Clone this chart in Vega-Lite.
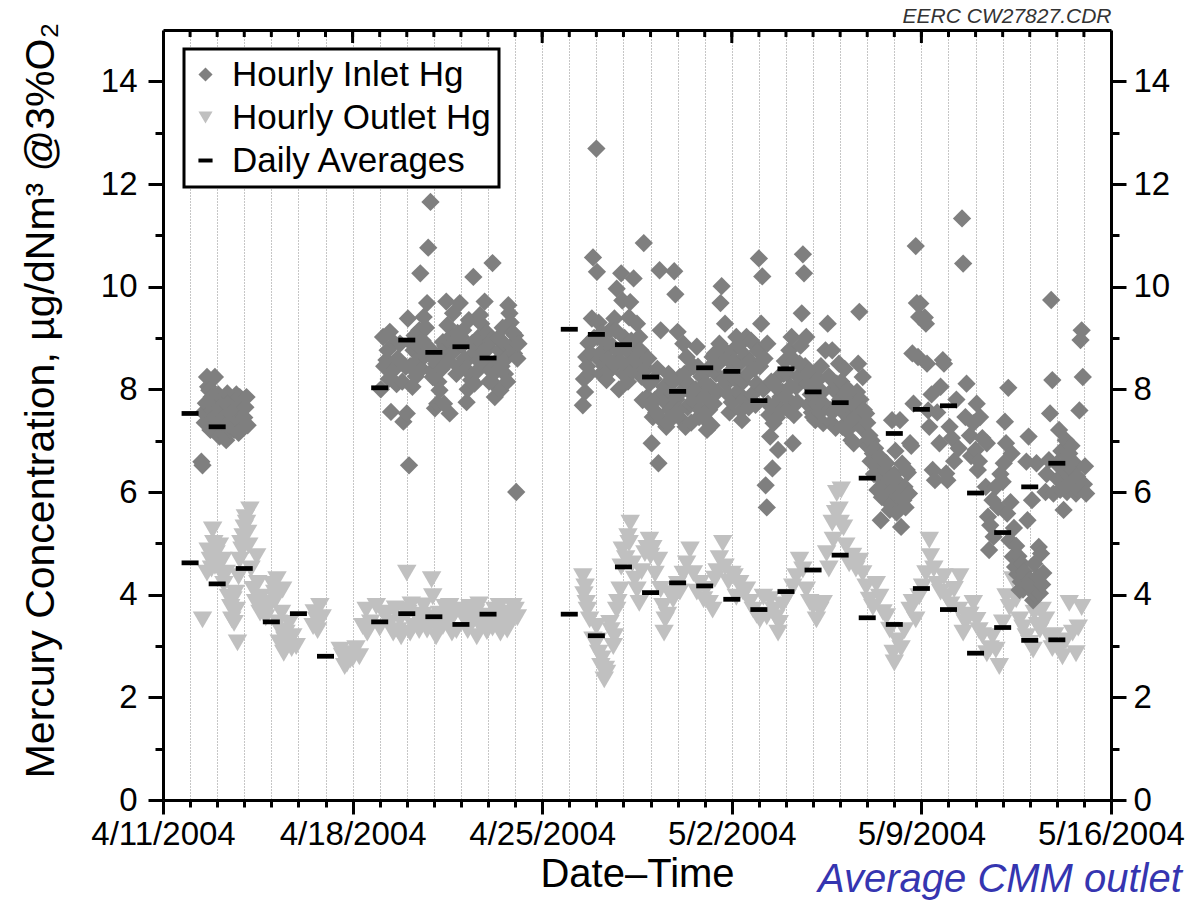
{
  "$schema": "https://vega.github.io/schema/vega-lite/v6.json",
  "width": 948,
  "height": 770,
  "autosize": {"type": "none"},
  "padding": {"left": 163, "top": 30, "right": 91, "bottom": 102},
  "background": "white",
  "title": {"text": "Average CMM outlet", "orient": "bottom", "anchor": "start", "frame": "group", "dx": 655, "offset": -34, "fontSize": 40, "fontStyle": "italic", "fontWeight": "normal", "color": "#3535b0", "font": "Liberation Sans"},
  "config": {
    "font": "Liberation Sans",
    "view": {"stroke": null},
    "axis": {"labelFont": "Liberation Sans", "titleFont": "Liberation Sans", "labelFontSize": 33, "titleFontSize": 40, "titleFontWeight": "normal", "labelColor": "black", "titleColor": "black", "domainColor": "black", "tickColor": "black", "domainWidth": 3, "tickWidth": 3, "grid": false}
  },
  "datasets": {
    "days": [
      {"date": "2004-04-12T00:00"}, {"date": "2004-04-13T00:00"}, {"date": "2004-04-14T00:00"}, {"date": "2004-04-15T00:00"},
      {"date": "2004-04-16T00:00"}, {"date": "2004-04-17T00:00"}, {"date": "2004-04-18T00:00"}, {"date": "2004-04-19T00:00"},
      {"date": "2004-04-20T00:00"}, {"date": "2004-04-21T00:00"}, {"date": "2004-04-22T00:00"}, {"date": "2004-04-23T00:00"},
      {"date": "2004-04-24T00:00"}, {"date": "2004-04-25T00:00"}, {"date": "2004-04-26T00:00"}, {"date": "2004-04-27T00:00"},
      {"date": "2004-04-28T00:00"}, {"date": "2004-04-29T00:00"}, {"date": "2004-04-30T00:00"}, {"date": "2004-05-01T00:00"},
      {"date": "2004-05-02T00:00"}, {"date": "2004-05-03T00:00"}, {"date": "2004-05-04T00:00"}, {"date": "2004-05-05T00:00"},
      {"date": "2004-05-06T00:00"}, {"date": "2004-05-07T00:00"}, {"date": "2004-05-08T00:00"}, {"date": "2004-05-09T00:00"},
      {"date": "2004-05-10T00:00"}, {"date": "2004-05-11T00:00"}, {"date": "2004-05-12T00:00"}, {"date": "2004-05-13T00:00"},
      {"date": "2004-05-14T00:00"}, {"date": "2004-05-15T00:00"}
    ],
    "hourly": [
      {"time": "2004-04-12T11:00", "value": 3.51, "series": "Hourly Outlet Hg"},
      {"time": "2004-04-12T15:00", "value": 4.42, "series": "Hourly Outlet Hg"},
      {"time": "2004-04-12T16:00", "value": 4.85, "series": "Hourly Outlet Hg"},
      {"time": "2004-04-12T18:00", "value": 4.67, "series": "Hourly Outlet Hg"},
      {"time": "2004-04-12T19:00", "value": 4.50, "series": "Hourly Outlet Hg"},
      {"time": "2004-04-12T20:00", "value": 5.26, "series": "Hourly Outlet Hg"},
      {"time": "2004-04-12T21:00", "value": 5.00, "series": "Hourly Outlet Hg"},
      {"time": "2004-04-12T22:00", "value": 4.55, "series": "Hourly Outlet Hg"},
      {"time": "2004-04-12T23:00", "value": 4.80, "series": "Hourly Outlet Hg"},
      {"time": "2004-04-13T00:00", "value": 4.60, "series": "Hourly Outlet Hg"},
      {"time": "2004-04-13T02:00", "value": 4.95, "series": "Hourly Outlet Hg"},
      {"time": "2004-04-13T04:00", "value": 4.40, "series": "Hourly Outlet Hg"},
      {"time": "2004-04-13T05:00", "value": 4.67, "series": "Hourly Outlet Hg"},
      {"time": "2004-04-13T06:00", "value": 4.20, "series": "Hourly Outlet Hg"},
      {"time": "2004-04-13T08:00", "value": 4.42, "series": "Hourly Outlet Hg"},
      {"time": "2004-04-13T10:00", "value": 3.95, "series": "Hourly Outlet Hg"},
      {"time": "2004-04-13T12:00", "value": 3.75, "series": "Hourly Outlet Hg"},
      {"time": "2004-04-13T13:00", "value": 3.51, "series": "Hourly Outlet Hg"},
      {"time": "2004-04-13T14:00", "value": 3.90, "series": "Hourly Outlet Hg"},
      {"time": "2004-04-13T15:00", "value": 3.44, "series": "Hourly Outlet Hg"},
      {"time": "2004-04-13T16:00", "value": 4.03, "series": "Hourly Outlet Hg"},
      {"time": "2004-04-13T17:00", "value": 3.70, "series": "Hourly Outlet Hg"},
      {"time": "2004-04-13T18:00", "value": 3.06, "series": "Hourly Outlet Hg"},
      {"time": "2004-04-13T19:00", "value": 4.35, "series": "Hourly Outlet Hg"},
      {"time": "2004-04-13T20:00", "value": 4.67, "series": "Hourly Outlet Hg"},
      {"time": "2004-04-13T21:00", "value": 5.00, "series": "Hourly Outlet Hg"},
      {"time": "2004-04-13T22:00", "value": 4.87, "series": "Hourly Outlet Hg"},
      {"time": "2004-04-13T23:00", "value": 5.13, "series": "Hourly Outlet Hg"},
      {"time": "2004-04-14T00:00", "value": 5.30, "series": "Hourly Outlet Hg"},
      {"time": "2004-04-14T01:00", "value": 5.50, "series": "Hourly Outlet Hg"},
      {"time": "2004-04-14T02:00", "value": 5.39, "series": "Hourly Outlet Hg"},
      {"time": "2004-04-14T03:00", "value": 5.20, "series": "Hourly Outlet Hg"},
      {"time": "2004-04-14T04:00", "value": 4.95, "series": "Hourly Outlet Hg"},
      {"time": "2004-04-14T05:00", "value": 5.65, "series": "Hourly Outlet Hg"},
      {"time": "2004-04-14T06:00", "value": 4.50, "series": "Hourly Outlet Hg"},
      {"time": "2004-04-14T08:00", "value": 4.10, "series": "Hourly Outlet Hg"},
      {"time": "2004-04-14T10:00", "value": 3.85, "series": "Hourly Outlet Hg"},
      {"time": "2004-04-14T11:00", "value": 4.74, "series": "Hourly Outlet Hg"},
      {"time": "2004-04-14T12:00", "value": 4.22, "series": "Hourly Outlet Hg"},
      {"time": "2004-04-14T14:00", "value": 3.64, "series": "Hourly Outlet Hg"},
      {"time": "2004-04-14T15:00", "value": 3.95, "series": "Hourly Outlet Hg"},
      {"time": "2004-04-14T17:00", "value": 3.70, "series": "Hourly Outlet Hg"},
      {"time": "2004-04-14T19:00", "value": 3.55, "series": "Hourly Outlet Hg"},
      {"time": "2004-04-14T21:00", "value": 3.80, "series": "Hourly Outlet Hg"},
      {"time": "2004-04-15T00:00", "value": 3.83, "series": "Hourly Outlet Hg"},
      {"time": "2004-04-15T01:00", "value": 4.20, "series": "Hourly Outlet Hg"},
      {"time": "2004-04-15T03:00", "value": 4.03, "series": "Hourly Outlet Hg"},
      {"time": "2004-04-15T04:00", "value": 3.90, "series": "Hourly Outlet Hg"},
      {"time": "2004-04-15T05:00", "value": 4.29, "series": "Hourly Outlet Hg"},
      {"time": "2004-04-15T06:00", "value": 3.45, "series": "Hourly Outlet Hg"},
      {"time": "2004-04-15T07:00", "value": 3.06, "series": "Hourly Outlet Hg"},
      {"time": "2004-04-15T08:00", "value": 3.30, "series": "Hourly Outlet Hg"},
      {"time": "2004-04-15T09:00", "value": 3.64, "series": "Hourly Outlet Hg"},
      {"time": "2004-04-15T10:00", "value": 4.09, "series": "Hourly Outlet Hg"},
      {"time": "2004-04-15T11:00", "value": 2.86, "series": "Hourly Outlet Hg"},
      {"time": "2004-04-15T12:00", "value": 3.12, "series": "Hourly Outlet Hg"},
      {"time": "2004-04-15T13:00", "value": 3.25, "series": "Hourly Outlet Hg"},
      {"time": "2004-04-15T14:00", "value": 2.99, "series": "Hourly Outlet Hg"},
      {"time": "2004-04-15T15:00", "value": 3.05, "series": "Hourly Outlet Hg"},
      {"time": "2004-04-15T16:00", "value": 3.44, "series": "Hourly Outlet Hg"},
      {"time": "2004-04-15T18:00", "value": 2.95, "series": "Hourly Outlet Hg"},
      {"time": "2004-04-15T19:00", "value": 3.18, "series": "Hourly Outlet Hg"},
      {"time": "2004-04-15T22:00", "value": 2.99, "series": "Hourly Outlet Hg"},
      {"time": "2004-04-16T13:00", "value": 3.38, "series": "Hourly Outlet Hg"},
      {"time": "2004-04-16T14:00", "value": 3.65, "series": "Hourly Outlet Hg"},
      {"time": "2004-04-16T16:00", "value": 3.51, "series": "Hourly Outlet Hg"},
      {"time": "2004-04-16T17:00", "value": 3.30, "series": "Hourly Outlet Hg"},
      {"time": "2004-04-16T19:00", "value": 3.77, "series": "Hourly Outlet Hg"},
      {"time": "2004-04-16T21:00", "value": 3.55, "series": "Hourly Outlet Hg"},
      {"time": "2004-04-17T13:00", "value": 2.92, "series": "Hourly Outlet Hg"},
      {"time": "2004-04-17T15:00", "value": 2.80, "series": "Hourly Outlet Hg"},
      {"time": "2004-04-17T17:00", "value": 2.60, "series": "Hourly Outlet Hg"},
      {"time": "2004-04-17T19:00", "value": 2.65, "series": "Hourly Outlet Hg"},
      {"time": "2004-04-17T20:00", "value": 2.85, "series": "Hourly Outlet Hg"},
      {"time": "2004-04-17T22:00", "value": 2.73, "series": "Hourly Outlet Hg"},
      {"time": "2004-04-18T00:00", "value": 2.75, "series": "Hourly Outlet Hg"},
      {"time": "2004-04-18T03:00", "value": 2.95, "series": "Hourly Outlet Hg"},
      {"time": "2004-04-18T06:00", "value": 2.79, "series": "Hourly Outlet Hg"},
      {"time": "2004-04-18T09:00", "value": 3.38, "series": "Hourly Outlet Hg"},
      {"time": "2004-04-18T12:00", "value": 3.70, "series": "Hourly Outlet Hg"},
      {"time": "2004-04-18T13:00", "value": 3.25, "series": "Hourly Outlet Hg"},
      {"time": "2004-04-18T16:00", "value": 3.45, "series": "Hourly Outlet Hg"},
      {"time": "2004-04-18T21:00", "value": 3.77, "series": "Hourly Outlet Hg"},
      {"time": "2004-04-19T00:00", "value": 3.35, "series": "Hourly Outlet Hg"},
      {"time": "2004-04-19T03:00", "value": 3.64, "series": "Hourly Outlet Hg"},
      {"time": "2004-04-19T06:00", "value": 3.60, "series": "Hourly Outlet Hg"},
      {"time": "2004-04-19T09:00", "value": 3.44, "series": "Hourly Outlet Hg"},
      {"time": "2004-04-19T12:00", "value": 3.25, "series": "Hourly Outlet Hg"},
      {"time": "2004-04-19T14:00", "value": 3.72, "series": "Hourly Outlet Hg"},
      {"time": "2004-04-19T16:00", "value": 3.30, "series": "Hourly Outlet Hg"},
      {"time": "2004-04-19T18:00", "value": 3.51, "series": "Hourly Outlet Hg"},
      {"time": "2004-04-19T19:00", "value": 3.18, "series": "Hourly Outlet Hg"},
      {"time": "2004-04-19T22:00", "value": 3.70, "series": "Hourly Outlet Hg"},
      {"time": "2004-04-20T00:00", "value": 4.42, "series": "Hourly Outlet Hg"},
      {"time": "2004-04-20T01:00", "value": 3.64, "series": "Hourly Outlet Hg"},
      {"time": "2004-04-20T03:00", "value": 3.25, "series": "Hourly Outlet Hg"},
      {"time": "2004-04-20T04:00", "value": 3.80, "series": "Hourly Outlet Hg"},
      {"time": "2004-04-20T06:00", "value": 3.38, "series": "Hourly Outlet Hg"},
      {"time": "2004-04-20T09:00", "value": 3.55, "series": "Hourly Outlet Hg"},
      {"time": "2004-04-20T11:00", "value": 3.30, "series": "Hourly Outlet Hg"},
      {"time": "2004-04-20T12:00", "value": 3.51, "series": "Hourly Outlet Hg"},
      {"time": "2004-04-20T14:00", "value": 3.60, "series": "Hourly Outlet Hg"},
      {"time": "2004-04-20T15:00", "value": 3.78, "series": "Hourly Outlet Hg"},
      {"time": "2004-04-20T18:00", "value": 3.31, "series": "Hourly Outlet Hg"},
      {"time": "2004-04-20T20:00", "value": 3.44, "series": "Hourly Outlet Hg"},
      {"time": "2004-04-20T22:00", "value": 4.29, "series": "Hourly Outlet Hg"},
      {"time": "2004-04-20T23:00", "value": 3.96, "series": "Hourly Outlet Hg"},
      {"time": "2004-04-21T00:00", "value": 3.55, "series": "Hourly Outlet Hg"},
      {"time": "2004-04-21T02:00", "value": 3.18, "series": "Hourly Outlet Hg"},
      {"time": "2004-04-21T04:00", "value": 3.30, "series": "Hourly Outlet Hg"},
      {"time": "2004-04-21T05:00", "value": 3.62, "series": "Hourly Outlet Hg"},
      {"time": "2004-04-21T08:00", "value": 3.38, "series": "Hourly Outlet Hg"},
      {"time": "2004-04-21T10:00", "value": 3.75, "series": "Hourly Outlet Hg"},
      {"time": "2004-04-21T11:00", "value": 3.48, "series": "Hourly Outlet Hg"},
      {"time": "2004-04-21T14:00", "value": 3.77, "series": "Hourly Outlet Hg"},
      {"time": "2004-04-21T16:00", "value": 3.25, "series": "Hourly Outlet Hg"},
      {"time": "2004-04-21T17:00", "value": 3.57, "series": "Hourly Outlet Hg"},
      {"time": "2004-04-21T19:00", "value": 3.65, "series": "Hourly Outlet Hg"},
      {"time": "2004-04-21T20:00", "value": 3.30, "series": "Hourly Outlet Hg"},
      {"time": "2004-04-21T23:00", "value": 3.70, "series": "Hourly Outlet Hg"},
      {"time": "2004-04-22T02:00", "value": 3.60, "series": "Hourly Outlet Hg"},
      {"time": "2004-04-22T05:00", "value": 3.44, "series": "Hourly Outlet Hg"},
      {"time": "2004-04-22T06:00", "value": 3.30, "series": "Hourly Outlet Hg"},
      {"time": "2004-04-22T08:00", "value": 3.75, "series": "Hourly Outlet Hg"},
      {"time": "2004-04-22T11:00", "value": 3.52, "series": "Hourly Outlet Hg"},
      {"time": "2004-04-22T13:00", "value": 3.65, "series": "Hourly Outlet Hg"},
      {"time": "2004-04-22T14:00", "value": 3.18, "series": "Hourly Outlet Hg"},
      {"time": "2004-04-22T16:00", "value": 3.80, "series": "Hourly Outlet Hg"},
      {"time": "2004-04-22T17:00", "value": 3.38, "series": "Hourly Outlet Hg"},
      {"time": "2004-04-22T20:00", "value": 3.57, "series": "Hourly Outlet Hg"},
      {"time": "2004-04-22T21:00", "value": 3.40, "series": "Hourly Outlet Hg"},
      {"time": "2004-04-22T23:00", "value": 3.28, "series": "Hourly Outlet Hg"},
      {"time": "2004-04-23T02:00", "value": 3.58, "series": "Hourly Outlet Hg"},
      {"time": "2004-04-23T04:00", "value": 3.35, "series": "Hourly Outlet Hg"},
      {"time": "2004-04-23T06:00", "value": 3.70, "series": "Hourly Outlet Hg"},
      {"time": "2004-04-23T08:00", "value": 3.55, "series": "Hourly Outlet Hg"},
      {"time": "2004-04-23T10:00", "value": 3.77, "series": "Hourly Outlet Hg"},
      {"time": "2004-04-23T11:00", "value": 3.25, "series": "Hourly Outlet Hg"},
      {"time": "2004-04-23T13:00", "value": 3.45, "series": "Hourly Outlet Hg"},
      {"time": "2004-04-23T16:00", "value": 3.64, "series": "Hourly Outlet Hg"},
      {"time": "2004-04-23T17:00", "value": 3.31, "series": "Hourly Outlet Hg"},
      {"time": "2004-04-23T19:00", "value": 3.44, "series": "Hourly Outlet Hg"},
      {"time": "2004-04-23T20:00", "value": 3.60, "series": "Hourly Outlet Hg"},
      {"time": "2004-04-23T22:00", "value": 3.77, "series": "Hourly Outlet Hg"},
      {"time": "2004-04-24T00:00", "value": 3.70, "series": "Hourly Outlet Hg"},
      {"time": "2004-04-24T02:00", "value": 3.55, "series": "Hourly Outlet Hg"},
      {"time": "2004-04-26T12:00", "value": 4.35, "series": "Hourly Outlet Hg"},
      {"time": "2004-04-26T13:00", "value": 4.00, "series": "Hourly Outlet Hg"},
      {"time": "2004-04-26T14:00", "value": 4.15, "series": "Hourly Outlet Hg"},
      {"time": "2004-04-26T15:00", "value": 3.83, "series": "Hourly Outlet Hg"},
      {"time": "2004-04-26T16:00", "value": 3.70, "series": "Hourly Outlet Hg"},
      {"time": "2004-04-26T18:00", "value": 3.51, "series": "Hourly Outlet Hg"},
      {"time": "2004-04-26T21:00", "value": 3.12, "series": "Hourly Outlet Hg"},
      {"time": "2004-04-27T00:00", "value": 3.38, "series": "Hourly Outlet Hg"},
      {"time": "2004-04-27T01:00", "value": 3.10, "series": "Hourly Outlet Hg"},
      {"time": "2004-04-27T02:00", "value": 2.86, "series": "Hourly Outlet Hg"},
      {"time": "2004-04-27T04:00", "value": 2.60, "series": "Hourly Outlet Hg"},
      {"time": "2004-04-27T05:00", "value": 2.75, "series": "Hourly Outlet Hg"},
      {"time": "2004-04-27T07:00", "value": 2.34, "series": "Hourly Outlet Hg"},
      {"time": "2004-04-27T08:00", "value": 2.55, "series": "Hourly Outlet Hg"},
      {"time": "2004-04-27T09:00", "value": 2.47, "series": "Hourly Outlet Hg"},
      {"time": "2004-04-27T12:00", "value": 3.44, "series": "Hourly Outlet Hg"},
      {"time": "2004-04-27T13:00", "value": 3.30, "series": "Hourly Outlet Hg"},
      {"time": "2004-04-27T15:00", "value": 2.99, "series": "Hourly Outlet Hg"},
      {"time": "2004-04-27T16:00", "value": 3.18, "series": "Hourly Outlet Hg"},
      {"time": "2004-04-27T18:00", "value": 3.70, "series": "Hourly Outlet Hg"},
      {"time": "2004-04-27T19:00", "value": 3.85, "series": "Hourly Outlet Hg"},
      {"time": "2004-04-27T21:00", "value": 4.09, "series": "Hourly Outlet Hg"},
      {"time": "2004-04-27T22:00", "value": 4.54, "series": "Hourly Outlet Hg"},
      {"time": "2004-04-27T23:00", "value": 4.87, "series": "Hourly Outlet Hg"},
      {"time": "2004-04-28T02:00", "value": 4.70, "series": "Hourly Outlet Hg"},
      {"time": "2004-04-28T04:00", "value": 5.13, "series": "Hourly Outlet Hg"},
      {"time": "2004-04-28T05:00", "value": 5.00, "series": "Hourly Outlet Hg"},
      {"time": "2004-04-28T06:00", "value": 5.39, "series": "Hourly Outlet Hg"},
      {"time": "2004-04-28T08:00", "value": 4.60, "series": "Hourly Outlet Hg"},
      {"time": "2004-04-28T10:00", "value": 4.30, "series": "Hourly Outlet Hg"},
      {"time": "2004-04-28T12:00", "value": 4.09, "series": "Hourly Outlet Hg"},
      {"time": "2004-04-28T14:00", "value": 3.83, "series": "Hourly Outlet Hg"},
      {"time": "2004-04-28T16:00", "value": 4.45, "series": "Hourly Outlet Hg"},
      {"time": "2004-04-28T19:00", "value": 4.80, "series": "Hourly Outlet Hg"},
      {"time": "2004-04-28T21:00", "value": 4.90, "series": "Hourly Outlet Hg"},
      {"time": "2004-04-28T23:00", "value": 5.06, "series": "Hourly Outlet Hg"},
      {"time": "2004-04-29T00:00", "value": 4.75, "series": "Hourly Outlet Hg"},
      {"time": "2004-04-29T02:00", "value": 4.90, "series": "Hourly Outlet Hg"},
      {"time": "2004-04-29T04:00", "value": 4.40, "series": "Hourly Outlet Hg"},
      {"time": "2004-04-29T07:00", "value": 4.67, "series": "Hourly Outlet Hg"},
      {"time": "2004-04-29T09:00", "value": 4.10, "series": "Hourly Outlet Hg"},
      {"time": "2004-04-29T11:00", "value": 3.77, "series": "Hourly Outlet Hg"},
      {"time": "2004-04-29T12:00", "value": 3.25, "series": "Hourly Outlet Hg"},
      {"time": "2004-04-29T13:00", "value": 3.51, "series": "Hourly Outlet Hg"},
      {"time": "2004-04-29T15:00", "value": 3.60, "series": "Hourly Outlet Hg"},
      {"time": "2004-04-29T17:00", "value": 4.02, "series": "Hourly Outlet Hg"},
      {"time": "2004-04-29T20:00", "value": 3.90, "series": "Hourly Outlet Hg"},
      {"time": "2004-04-30T00:00", "value": 4.20, "series": "Hourly Outlet Hg"},
      {"time": "2004-04-30T02:00", "value": 4.05, "series": "Hourly Outlet Hg"},
      {"time": "2004-04-30T05:00", "value": 4.40, "series": "Hourly Outlet Hg"},
      {"time": "2004-04-30T08:00", "value": 4.60, "series": "Hourly Outlet Hg"},
      {"time": "2004-04-30T11:00", "value": 4.87, "series": "Hourly Outlet Hg"},
      {"time": "2004-04-30T14:00", "value": 4.41, "series": "Hourly Outlet Hg"},
      {"time": "2004-04-30T17:00", "value": 4.05, "series": "Hourly Outlet Hg"},
      {"time": "2004-04-30T20:00", "value": 4.22, "series": "Hourly Outlet Hg"},
      {"time": "2004-04-30T23:00", "value": 3.90, "series": "Hourly Outlet Hg"},
      {"time": "2004-05-01T01:00", "value": 4.10, "series": "Hourly Outlet Hg"},
      {"time": "2004-05-01T04:00", "value": 3.83, "series": "Hourly Outlet Hg"},
      {"time": "2004-05-01T07:00", "value": 3.70, "series": "Hourly Outlet Hg"},
      {"time": "2004-05-01T09:00", "value": 4.30, "series": "Hourly Outlet Hg"},
      {"time": "2004-05-01T11:00", "value": 4.45, "series": "Hourly Outlet Hg"},
      {"time": "2004-05-01T13:00", "value": 4.70, "series": "Hourly Outlet Hg"},
      {"time": "2004-05-01T16:00", "value": 5.00, "series": "Hourly Outlet Hg"},
      {"time": "2004-05-01T18:00", "value": 4.54, "series": "Hourly Outlet Hg"},
      {"time": "2004-05-01T21:00", "value": 4.25, "series": "Hourly Outlet Hg"},
      {"time": "2004-05-02T00:00", "value": 4.40, "series": "Hourly Outlet Hg"},
      {"time": "2004-05-02T02:00", "value": 4.35, "series": "Hourly Outlet Hg"},
      {"time": "2004-05-02T04:00", "value": 3.95, "series": "Hourly Outlet Hg"},
      {"time": "2004-05-02T07:00", "value": 4.22, "series": "Hourly Outlet Hg"},
      {"time": "2004-05-02T10:00", "value": 4.05, "series": "Hourly Outlet Hg"},
      {"time": "2004-05-02T13:00", "value": 4.09, "series": "Hourly Outlet Hg"},
      {"time": "2004-05-02T16:00", "value": 3.85, "series": "Hourly Outlet Hg"},
      {"time": "2004-05-02T19:00", "value": 3.70, "series": "Hourly Outlet Hg"},
      {"time": "2004-05-02T22:00", "value": 3.60, "series": "Hourly Outlet Hg"},
      {"time": "2004-05-03T01:00", "value": 3.51, "series": "Hourly Outlet Hg"},
      {"time": "2004-05-03T04:00", "value": 3.95, "series": "Hourly Outlet Hg"},
      {"time": "2004-05-03T07:00", "value": 3.57, "series": "Hourly Outlet Hg"},
      {"time": "2004-05-03T10:00", "value": 3.90, "series": "Hourly Outlet Hg"},
      {"time": "2004-05-03T13:00", "value": 3.70, "series": "Hourly Outlet Hg"},
      {"time": "2004-05-03T15:00", "value": 3.55, "series": "Hourly Outlet Hg"},
      {"time": "2004-05-03T17:00", "value": 3.25, "series": "Hourly Outlet Hg"},
      {"time": "2004-05-03T18:00", "value": 3.44, "series": "Hourly Outlet Hg"},
      {"time": "2004-05-03T21:00", "value": 3.80, "series": "Hourly Outlet Hg"},
      {"time": "2004-05-04T01:00", "value": 3.95, "series": "Hourly Outlet Hg"},
      {"time": "2004-05-04T06:00", "value": 4.15, "series": "Hourly Outlet Hg"},
      {"time": "2004-05-04T09:00", "value": 4.35, "series": "Hourly Outlet Hg"},
      {"time": "2004-05-04T12:00", "value": 4.67, "series": "Hourly Outlet Hg"},
      {"time": "2004-05-04T15:00", "value": 4.48, "series": "Hourly Outlet Hg"},
      {"time": "2004-05-04T18:00", "value": 4.09, "series": "Hourly Outlet Hg"},
      {"time": "2004-05-04T21:00", "value": 3.85, "series": "Hourly Outlet Hg"},
      {"time": "2004-05-05T00:00", "value": 3.77, "series": "Hourly Outlet Hg"},
      {"time": "2004-05-05T03:00", "value": 3.51, "series": "Hourly Outlet Hg"},
      {"time": "2004-05-05T06:00", "value": 3.70, "series": "Hourly Outlet Hg"},
      {"time": "2004-05-05T09:00", "value": 3.83, "series": "Hourly Outlet Hg"},
      {"time": "2004-05-05T12:00", "value": 4.80, "series": "Hourly Outlet Hg"},
      {"time": "2004-05-05T14:00", "value": 4.50, "series": "Hourly Outlet Hg"},
      {"time": "2004-05-05T17:00", "value": 5.39, "series": "Hourly Outlet Hg"},
      {"time": "2004-05-05T18:00", "value": 5.06, "series": "Hourly Outlet Hg"},
      {"time": "2004-05-05T20:00", "value": 5.58, "series": "Hourly Outlet Hg"},
      {"time": "2004-05-05T21:00", "value": 5.97, "series": "Hourly Outlet Hg"},
      {"time": "2004-05-05T23:00", "value": 5.65, "series": "Hourly Outlet Hg"},
      {"time": "2004-05-06T00:00", "value": 5.39, "series": "Hourly Outlet Hg"},
      {"time": "2004-05-06T01:00", "value": 6.04, "series": "Hourly Outlet Hg"},
      {"time": "2004-05-06T03:00", "value": 5.30, "series": "Hourly Outlet Hg"},
      {"time": "2004-05-06T05:00", "value": 4.95, "series": "Hourly Outlet Hg"},
      {"time": "2004-05-06T08:00", "value": 4.60, "series": "Hourly Outlet Hg"},
      {"time": "2004-05-06T11:00", "value": 4.75, "series": "Hourly Outlet Hg"},
      {"time": "2004-05-06T14:00", "value": 4.50, "series": "Hourly Outlet Hg"},
      {"time": "2004-05-06T17:00", "value": 4.65, "series": "Hourly Outlet Hg"},
      {"time": "2004-05-06T20:00", "value": 4.41, "series": "Hourly Outlet Hg"},
      {"time": "2004-05-06T23:00", "value": 4.15, "series": "Hourly Outlet Hg"},
      {"time": "2004-05-07T02:00", "value": 3.89, "series": "Hourly Outlet Hg"},
      {"time": "2004-05-07T05:00", "value": 3.75, "series": "Hourly Outlet Hg"},
      {"time": "2004-05-07T08:00", "value": 4.20, "series": "Hourly Outlet Hg"},
      {"time": "2004-05-07T11:00", "value": 3.95, "series": "Hourly Outlet Hg"},
      {"time": "2004-05-07T14:00", "value": 3.65, "series": "Hourly Outlet Hg"},
      {"time": "2004-05-07T17:00", "value": 3.57, "series": "Hourly Outlet Hg"},
      {"time": "2004-05-07T20:00", "value": 3.31, "series": "Hourly Outlet Hg"},
      {"time": "2004-05-07T23:00", "value": 2.86, "series": "Hourly Outlet Hg"},
      {"time": "2004-05-08T00:00", "value": 2.67, "series": "Hourly Outlet Hg"},
      {"time": "2004-05-08T03:00", "value": 3.10, "series": "Hourly Outlet Hg"},
      {"time": "2004-05-08T06:00", "value": 2.95, "series": "Hourly Outlet Hg"},
      {"time": "2004-05-08T09:00", "value": 3.30, "series": "Hourly Outlet Hg"},
      {"time": "2004-05-08T14:00", "value": 3.70, "series": "Hourly Outlet Hg"},
      {"time": "2004-05-08T16:00", "value": 3.85, "series": "Hourly Outlet Hg"},
      {"time": "2004-05-08T19:00", "value": 3.51, "series": "Hourly Outlet Hg"},
      {"time": "2004-05-08T22:00", "value": 3.96, "series": "Hourly Outlet Hg"},
      {"time": "2004-05-09T01:00", "value": 4.15, "series": "Hourly Outlet Hg"},
      {"time": "2004-05-09T04:00", "value": 4.41, "series": "Hourly Outlet Hg"},
      {"time": "2004-05-09T07:00", "value": 5.06, "series": "Hourly Outlet Hg"},
      {"time": "2004-05-09T08:00", "value": 4.74, "series": "Hourly Outlet Hg"},
      {"time": "2004-05-09T11:00", "value": 4.50, "series": "Hourly Outlet Hg"},
      {"time": "2004-05-09T14:00", "value": 4.20, "series": "Hourly Outlet Hg"},
      {"time": "2004-05-09T17:00", "value": 4.05, "series": "Hourly Outlet Hg"},
      {"time": "2004-05-09T20:00", "value": 4.35, "series": "Hourly Outlet Hg"},
      {"time": "2004-05-09T22:00", "value": 3.96, "series": "Hourly Outlet Hg"},
      {"time": "2004-05-10T02:00", "value": 3.80, "series": "Hourly Outlet Hg"},
      {"time": "2004-05-10T05:00", "value": 4.10, "series": "Hourly Outlet Hg"},
      {"time": "2004-05-10T09:00", "value": 3.70, "series": "Hourly Outlet Hg"},
      {"time": "2004-05-10T10:00", "value": 4.35, "series": "Hourly Outlet Hg"},
      {"time": "2004-05-10T13:00", "value": 3.25, "series": "Hourly Outlet Hg"},
      {"time": "2004-05-10T15:00", "value": 3.45, "series": "Hourly Outlet Hg"},
      {"time": "2004-05-10T17:00", "value": 3.55, "series": "Hourly Outlet Hg"},
      {"time": "2004-05-10T19:00", "value": 3.60, "series": "Hourly Outlet Hg"},
      {"time": "2004-05-10T22:00", "value": 3.83, "series": "Hourly Outlet Hg"},
      {"time": "2004-05-11T01:00", "value": 3.50, "series": "Hourly Outlet Hg"},
      {"time": "2004-05-11T03:00", "value": 3.30, "series": "Hourly Outlet Hg"},
      {"time": "2004-05-11T06:00", "value": 3.20, "series": "Hourly Outlet Hg"},
      {"time": "2004-05-11T10:00", "value": 2.85, "series": "Hourly Outlet Hg"},
      {"time": "2004-05-11T13:00", "value": 2.95, "series": "Hourly Outlet Hg"},
      {"time": "2004-05-11T15:00", "value": 3.18, "series": "Hourly Outlet Hg"},
      {"time": "2004-05-11T18:00", "value": 2.92, "series": "Hourly Outlet Hg"},
      {"time": "2004-05-11T21:00", "value": 2.60, "series": "Hourly Outlet Hg"},
      {"time": "2004-05-12T00:00", "value": 3.45, "series": "Hourly Outlet Hg"},
      {"time": "2004-05-12T03:00", "value": 3.96, "series": "Hourly Outlet Hg"},
      {"time": "2004-05-12T06:00", "value": 3.75, "series": "Hourly Outlet Hg"},
      {"time": "2004-05-12T09:00", "value": 4.29, "series": "Hourly Outlet Hg"},
      {"time": "2004-05-12T12:00", "value": 3.90, "series": "Hourly Outlet Hg"},
      {"time": "2004-05-12T15:00", "value": 3.51, "series": "Hourly Outlet Hg"},
      {"time": "2004-05-12T18:00", "value": 3.35, "series": "Hourly Outlet Hg"},
      {"time": "2004-05-12T21:00", "value": 3.18, "series": "Hourly Outlet Hg"},
      {"time": "2004-05-13T00:00", "value": 3.05, "series": "Hourly Outlet Hg"},
      {"time": "2004-05-13T03:00", "value": 2.92, "series": "Hourly Outlet Hg"},
      {"time": "2004-05-13T04:00", "value": 3.64, "series": "Hourly Outlet Hg"},
      {"time": "2004-05-13T07:00", "value": 3.40, "series": "Hourly Outlet Hg"},
      {"time": "2004-05-13T09:00", "value": 3.31, "series": "Hourly Outlet Hg"},
      {"time": "2004-05-13T11:00", "value": 3.70, "series": "Hourly Outlet Hg"},
      {"time": "2004-05-13T14:00", "value": 3.51, "series": "Hourly Outlet Hg"},
      {"time": "2004-05-13T17:00", "value": 3.18, "series": "Hourly Outlet Hg"},
      {"time": "2004-05-13T20:00", "value": 2.95, "series": "Hourly Outlet Hg"},
      {"time": "2004-05-13T22:00", "value": 3.20, "series": "Hourly Outlet Hg"},
      {"time": "2004-05-14T02:00", "value": 2.92, "series": "Hourly Outlet Hg"},
      {"time": "2004-05-14T05:00", "value": 2.79, "series": "Hourly Outlet Hg"},
      {"time": "2004-05-14T08:00", "value": 3.10, "series": "Hourly Outlet Hg"},
      {"time": "2004-05-14T11:00", "value": 3.83, "series": "Hourly Outlet Hg"},
      {"time": "2004-05-14T14:00", "value": 3.25, "series": "Hourly Outlet Hg"},
      {"time": "2004-05-14T17:00", "value": 2.85, "series": "Hourly Outlet Hg"},
      {"time": "2004-05-14T19:00", "value": 3.35, "series": "Hourly Outlet Hg"},
      {"time": "2004-05-14T22:00", "value": 3.75, "series": "Hourly Outlet Hg"},

      {"time": "2004-04-12T10:00", "value": 6.59, "series": "Hourly Inlet Hg"},
      {"time": "2004-04-12T11:00", "value": 6.52, "series": "Hourly Inlet Hg"},
      {"time": "2004-04-12T12:00", "value": 7.55, "series": "Hourly Inlet Hg"},
      {"time": "2004-04-12T13:00", "value": 7.35, "series": "Hourly Inlet Hg"},
      {"time": "2004-04-12T14:00", "value": 7.73, "series": "Hourly Inlet Hg"},
      {"time": "2004-04-12T15:00", "value": 8.24, "series": "Hourly Inlet Hg"},
      {"time": "2004-04-12T16:00", "value": 8.05, "series": "Hourly Inlet Hg"},
      {"time": "2004-04-12T17:00", "value": 7.98, "series": "Hourly Inlet Hg"},
      {"time": "2004-04-12T18:00", "value": 7.21, "series": "Hourly Inlet Hg"},
      {"time": "2004-04-12T19:00", "value": 7.85, "series": "Hourly Inlet Hg"},
      {"time": "2004-04-12T20:00", "value": 7.60, "series": "Hourly Inlet Hg"},
      {"time": "2004-04-12T21:00", "value": 7.45, "series": "Hourly Inlet Hg"},
      {"time": "2004-04-12T22:00", "value": 8.24, "series": "Hourly Inlet Hg"},
      {"time": "2004-04-12T23:00", "value": 7.70, "series": "Hourly Inlet Hg"},
      {"time": "2004-04-13T00:00", "value": 7.40, "series": "Hourly Inlet Hg"},
      {"time": "2004-04-13T01:00", "value": 7.90, "series": "Hourly Inlet Hg"},
      {"time": "2004-04-13T02:00", "value": 7.08, "series": "Hourly Inlet Hg"},
      {"time": "2004-04-13T03:00", "value": 7.65, "series": "Hourly Inlet Hg"},
      {"time": "2004-04-13T04:00", "value": 7.30, "series": "Hourly Inlet Hg"},
      {"time": "2004-04-13T05:00", "value": 7.15, "series": "Hourly Inlet Hg"},
      {"time": "2004-04-13T06:00", "value": 7.47, "series": "Hourly Inlet Hg"},
      {"time": "2004-04-13T07:00", "value": 7.75, "series": "Hourly Inlet Hg"},
      {"time": "2004-04-13T08:00", "value": 7.01, "series": "Hourly Inlet Hg"},
      {"time": "2004-04-13T09:00", "value": 7.92, "series": "Hourly Inlet Hg"},
      {"time": "2004-04-13T10:00", "value": 7.35, "series": "Hourly Inlet Hg"},
      {"time": "2004-04-13T11:00", "value": 7.55, "series": "Hourly Inlet Hg"},
      {"time": "2004-04-13T12:00", "value": 7.20, "series": "Hourly Inlet Hg"},
      {"time": "2004-04-13T13:00", "value": 7.79, "series": "Hourly Inlet Hg"},
      {"time": "2004-04-13T14:00", "value": 7.50, "series": "Hourly Inlet Hg"},
      {"time": "2004-04-13T15:00", "value": 7.21, "series": "Hourly Inlet Hg"},
      {"time": "2004-04-13T16:00", "value": 7.60, "series": "Hourly Inlet Hg"},
      {"time": "2004-04-13T17:00", "value": 7.90, "series": "Hourly Inlet Hg"},
      {"time": "2004-04-13T18:00", "value": 7.40, "series": "Hourly Inlet Hg"},
      {"time": "2004-04-13T19:00", "value": 7.15, "series": "Hourly Inlet Hg"},
      {"time": "2004-04-13T20:00", "value": 7.85, "series": "Hourly Inlet Hg"},
      {"time": "2004-04-13T21:00", "value": 7.70, "series": "Hourly Inlet Hg"},
      {"time": "2004-04-13T22:00", "value": 7.47, "series": "Hourly Inlet Hg"},
      {"time": "2004-04-13T23:00", "value": 7.25, "series": "Hourly Inlet Hg"},
      {"time": "2004-04-14T00:00", "value": 7.45, "series": "Hourly Inlet Hg"},
      {"time": "2004-04-14T01:00", "value": 7.65, "series": "Hourly Inlet Hg"},
      {"time": "2004-04-14T02:00", "value": 7.85, "series": "Hourly Inlet Hg"},
      {"time": "2004-04-14T03:00", "value": 7.30, "series": "Hourly Inlet Hg"},
      {"time": "2004-04-19T01:00", "value": 8.00, "series": "Hourly Inlet Hg"},
      {"time": "2004-04-19T03:00", "value": 9.02, "series": "Hourly Inlet Hg"},
      {"time": "2004-04-19T04:00", "value": 8.45, "series": "Hourly Inlet Hg"},
      {"time": "2004-04-19T06:00", "value": 8.57, "series": "Hourly Inlet Hg"},
      {"time": "2004-04-19T07:00", "value": 8.76, "series": "Hourly Inlet Hg"},
      {"time": "2004-04-19T08:00", "value": 8.20, "series": "Hourly Inlet Hg"},
      {"time": "2004-04-19T09:00", "value": 9.12, "series": "Hourly Inlet Hg"},
      {"time": "2004-04-19T10:00", "value": 7.56, "series": "Hourly Inlet Hg"},
      {"time": "2004-04-19T12:00", "value": 8.37, "series": "Hourly Inlet Hg"},
      {"time": "2004-04-19T13:00", "value": 8.90, "series": "Hourly Inlet Hg"},
      {"time": "2004-04-19T15:00", "value": 8.10, "series": "Hourly Inlet Hg"},
      {"time": "2004-04-19T16:00", "value": 8.60, "series": "Hourly Inlet Hg"},
      {"time": "2004-04-19T18:00", "value": 8.89, "series": "Hourly Inlet Hg"},
      {"time": "2004-04-19T20:00", "value": 8.15, "series": "Hourly Inlet Hg"},
      {"time": "2004-04-19T21:00", "value": 7.37, "series": "Hourly Inlet Hg"},
      {"time": "2004-04-19T23:00", "value": 8.44, "series": "Hourly Inlet Hg"},
      {"time": "2004-04-20T00:00", "value": 7.53, "series": "Hourly Inlet Hg"},
      {"time": "2004-04-20T01:00", "value": 9.38, "series": "Hourly Inlet Hg"},
      {"time": "2004-04-20T02:00", "value": 6.52, "series": "Hourly Inlet Hg"},
      {"time": "2004-04-20T03:00", "value": 8.45, "series": "Hourly Inlet Hg"},
      {"time": "2004-04-20T04:00", "value": 8.90, "series": "Hourly Inlet Hg"},
      {"time": "2004-04-20T05:00", "value": 8.05, "series": "Hourly Inlet Hg"},
      {"time": "2004-04-20T06:00", "value": 8.76, "series": "Hourly Inlet Hg"},
      {"time": "2004-04-20T07:00", "value": 9.05, "series": "Hourly Inlet Hg"},
      {"time": "2004-04-20T08:00", "value": 8.25, "series": "Hourly Inlet Hg"},
      {"time": "2004-04-20T09:00", "value": 8.55, "series": "Hourly Inlet Hg"},
      {"time": "2004-04-20T10:00", "value": 8.85, "series": "Hourly Inlet Hg"},
      {"time": "2004-04-20T11:00", "value": 9.15, "series": "Hourly Inlet Hg"},
      {"time": "2004-04-20T12:00", "value": 10.26, "series": "Hourly Inlet Hg"},
      {"time": "2004-04-20T13:00", "value": 8.40, "series": "Hourly Inlet Hg"},
      {"time": "2004-04-20T14:00", "value": 8.95, "series": "Hourly Inlet Hg"},
      {"time": "2004-04-20T15:00", "value": 9.41, "series": "Hourly Inlet Hg"},
      {"time": "2004-04-20T16:00", "value": 8.65, "series": "Hourly Inlet Hg"},
      {"time": "2004-04-20T17:00", "value": 9.20, "series": "Hourly Inlet Hg"},
      {"time": "2004-04-20T18:00", "value": 9.68, "series": "Hourly Inlet Hg"},
      {"time": "2004-04-20T19:00", "value": 10.76, "series": "Hourly Inlet Hg"},
      {"time": "2004-04-20T20:00", "value": 8.80, "series": "Hourly Inlet Hg"},
      {"time": "2004-04-20T21:00", "value": 11.65, "series": "Hourly Inlet Hg"},
      {"time": "2004-04-20T22:00", "value": 8.35, "series": "Hourly Inlet Hg"},
      {"time": "2004-04-20T23:00", "value": 8.24, "series": "Hourly Inlet Hg"},
      {"time": "2004-04-21T00:00", "value": 8.60, "series": "Hourly Inlet Hg"},
      {"time": "2004-04-21T01:00", "value": 7.63, "series": "Hourly Inlet Hg"},
      {"time": "2004-04-21T02:00", "value": 8.50, "series": "Hourly Inlet Hg"},
      {"time": "2004-04-21T03:00", "value": 7.72, "series": "Hourly Inlet Hg"},
      {"time": "2004-04-21T04:00", "value": 8.15, "series": "Hourly Inlet Hg"},
      {"time": "2004-04-21T05:00", "value": 7.98, "series": "Hourly Inlet Hg"},
      {"time": "2004-04-21T06:00", "value": 8.70, "series": "Hourly Inlet Hg"},
      {"time": "2004-04-21T07:00", "value": 8.40, "series": "Hourly Inlet Hg"},
      {"time": "2004-04-21T08:00", "value": 8.92, "series": "Hourly Inlet Hg"},
      {"time": "2004-04-21T09:00", "value": 7.72, "series": "Hourly Inlet Hg"},
      {"time": "2004-04-21T10:00", "value": 8.85, "series": "Hourly Inlet Hg"},
      {"time": "2004-04-21T11:00", "value": 9.71, "series": "Hourly Inlet Hg"},
      {"time": "2004-04-21T12:00", "value": 9.25, "series": "Hourly Inlet Hg"},
      {"time": "2004-04-21T13:00", "value": 8.55, "series": "Hourly Inlet Hg"},
      {"time": "2004-04-21T14:00", "value": 7.53, "series": "Hourly Inlet Hg"},
      {"time": "2004-04-21T15:00", "value": 8.90, "series": "Hourly Inlet Hg"},
      {"time": "2004-04-21T16:00", "value": 9.05, "series": "Hourly Inlet Hg"},
      {"time": "2004-04-21T17:00", "value": 9.48, "series": "Hourly Inlet Hg"},
      {"time": "2004-04-21T18:00", "value": 8.75, "series": "Hourly Inlet Hg"},
      {"time": "2004-04-21T19:00", "value": 8.95, "series": "Hourly Inlet Hg"},
      {"time": "2004-04-21T20:00", "value": 8.30, "series": "Hourly Inlet Hg"},
      {"time": "2004-04-21T21:00", "value": 9.10, "series": "Hourly Inlet Hg"},
      {"time": "2004-04-21T22:00", "value": 8.44, "series": "Hourly Inlet Hg"},
      {"time": "2004-04-21T23:00", "value": 9.68, "series": "Hourly Inlet Hg"},
      {"time": "2004-04-22T00:00", "value": 9.02, "series": "Hourly Inlet Hg"},
      {"time": "2004-04-22T01:00", "value": 8.85, "series": "Hourly Inlet Hg"},
      {"time": "2004-04-22T02:00", "value": 9.15, "series": "Hourly Inlet Hg"},
      {"time": "2004-04-22T03:00", "value": 8.60, "series": "Hourly Inlet Hg"},
      {"time": "2004-04-22T04:00", "value": 8.40, "series": "Hourly Inlet Hg"},
      {"time": "2004-04-22T05:00", "value": 7.75, "series": "Hourly Inlet Hg"},
      {"time": "2004-04-22T06:00", "value": 8.00, "series": "Hourly Inlet Hg"},
      {"time": "2004-04-22T07:00", "value": 9.35, "series": "Hourly Inlet Hg"},
      {"time": "2004-04-22T08:00", "value": 8.63, "series": "Hourly Inlet Hg"},
      {"time": "2004-04-22T09:00", "value": 8.18, "series": "Hourly Inlet Hg"},
      {"time": "2004-04-22T10:00", "value": 8.90, "series": "Hourly Inlet Hg"},
      {"time": "2004-04-22T11:00", "value": 10.19, "series": "Hourly Inlet Hg"},
      {"time": "2004-04-22T12:00", "value": 8.11, "series": "Hourly Inlet Hg"},
      {"time": "2004-04-22T13:00", "value": 8.70, "series": "Hourly Inlet Hg"},
      {"time": "2004-04-22T14:00", "value": 8.35, "series": "Hourly Inlet Hg"},
      {"time": "2004-04-22T15:00", "value": 9.00, "series": "Hourly Inlet Hg"},
      {"time": "2004-04-22T16:00", "value": 8.55, "series": "Hourly Inlet Hg"},
      {"time": "2004-04-22T17:00", "value": 9.45, "series": "Hourly Inlet Hg"},
      {"time": "2004-04-22T18:00", "value": 9.28, "series": "Hourly Inlet Hg"},
      {"time": "2004-04-22T19:00", "value": 8.90, "series": "Hourly Inlet Hg"},
      {"time": "2004-04-22T20:00", "value": 8.75, "series": "Hourly Inlet Hg"},
      {"time": "2004-04-22T21:00", "value": 9.71, "series": "Hourly Inlet Hg"},
      {"time": "2004-04-22T22:00", "value": 8.50, "series": "Hourly Inlet Hg"},
      {"time": "2004-04-22T23:00", "value": 9.10, "series": "Hourly Inlet Hg"},
      {"time": "2004-04-23T00:00", "value": 8.80, "series": "Hourly Inlet Hg"},
      {"time": "2004-04-23T01:00", "value": 8.15, "series": "Hourly Inlet Hg"},
      {"time": "2004-04-23T02:00", "value": 8.37, "series": "Hourly Inlet Hg"},
      {"time": "2004-04-23T03:00", "value": 8.95, "series": "Hourly Inlet Hg"},
      {"time": "2004-04-23T04:00", "value": 10.46, "series": "Hourly Inlet Hg"},
      {"time": "2004-04-23T05:00", "value": 8.11, "series": "Hourly Inlet Hg"},
      {"time": "2004-04-23T06:00", "value": 7.85, "series": "Hourly Inlet Hg"},
      {"time": "2004-04-23T07:00", "value": 8.35, "series": "Hourly Inlet Hg"},
      {"time": "2004-04-23T08:00", "value": 8.55, "series": "Hourly Inlet Hg"},
      {"time": "2004-04-23T09:00", "value": 9.00, "series": "Hourly Inlet Hg"},
      {"time": "2004-04-23T10:00", "value": 8.76, "series": "Hourly Inlet Hg"},
      {"time": "2004-04-23T11:00", "value": 7.98, "series": "Hourly Inlet Hg"},
      {"time": "2004-04-23T12:00", "value": 8.45, "series": "Hourly Inlet Hg"},
      {"time": "2004-04-23T13:00", "value": 9.20, "series": "Hourly Inlet Hg"},
      {"time": "2004-04-23T14:00", "value": 8.90, "series": "Hourly Inlet Hg"},
      {"time": "2004-04-23T15:00", "value": 8.30, "series": "Hourly Inlet Hg"},
      {"time": "2004-04-23T16:00", "value": 8.60, "series": "Hourly Inlet Hg"},
      {"time": "2004-04-23T17:00", "value": 8.15, "series": "Hourly Inlet Hg"},
      {"time": "2004-04-23T18:00", "value": 9.64, "series": "Hourly Inlet Hg"},
      {"time": "2004-04-23T19:00", "value": 9.48, "series": "Hourly Inlet Hg"},
      {"time": "2004-04-23T20:00", "value": 9.30, "series": "Hourly Inlet Hg"},
      {"time": "2004-04-23T21:00", "value": 8.85, "series": "Hourly Inlet Hg"},
      {"time": "2004-04-23T22:00", "value": 9.10, "series": "Hourly Inlet Hg"},
      {"time": "2004-04-23T23:00", "value": 8.70, "series": "Hourly Inlet Hg"},
      {"time": "2004-04-24T00:00", "value": 9.05, "series": "Hourly Inlet Hg"},
      {"time": "2004-04-24T01:00", "value": 6.00, "series": "Hourly Inlet Hg"},
      {"time": "2004-04-24T02:00", "value": 8.60, "series": "Hourly Inlet Hg"},
      {"time": "2004-04-24T03:00", "value": 8.89, "series": "Hourly Inlet Hg"},
      {"time": "2004-04-26T12:00", "value": 7.69, "series": "Hourly Inlet Hg"},
      {"time": "2004-04-26T13:00", "value": 8.20, "series": "Hourly Inlet Hg"},
      {"time": "2004-04-26T14:00", "value": 7.95, "series": "Hourly Inlet Hg"},
      {"time": "2004-04-26T15:00", "value": 8.63, "series": "Hourly Inlet Hg"},
      {"time": "2004-04-26T16:00", "value": 8.45, "series": "Hourly Inlet Hg"},
      {"time": "2004-04-26T17:00", "value": 8.90, "series": "Hourly Inlet Hg"},
      {"time": "2004-04-26T18:00", "value": 8.31, "series": "Hourly Inlet Hg"},
      {"time": "2004-04-26T19:00", "value": 8.70, "series": "Hourly Inlet Hg"},
      {"time": "2004-04-26T20:00", "value": 9.38, "series": "Hourly Inlet Hg"},
      {"time": "2004-04-26T21:00", "value": 10.57, "series": "Hourly Inlet Hg"},
      {"time": "2004-04-26T22:00", "value": 9.00, "series": "Hourly Inlet Hg"},
      {"time": "2004-04-27T00:00", "value": 12.69, "series": "Hourly Inlet Hg"},
      {"time": "2004-04-27T00:30", "value": 10.29, "series": "Hourly Inlet Hg"},
      {"time": "2004-04-27T01:00", "value": 9.02, "series": "Hourly Inlet Hg"},
      {"time": "2004-04-27T02:00", "value": 9.30, "series": "Hourly Inlet Hg"},
      {"time": "2004-04-27T03:00", "value": 8.57, "series": "Hourly Inlet Hg"},
      {"time": "2004-04-27T04:00", "value": 8.30, "series": "Hourly Inlet Hg"},
      {"time": "2004-04-27T05:00", "value": 9.10, "series": "Hourly Inlet Hg"},
      {"time": "2004-04-27T06:00", "value": 8.76, "series": "Hourly Inlet Hg"},
      {"time": "2004-04-27T07:00", "value": 8.45, "series": "Hourly Inlet Hg"},
      {"time": "2004-04-27T08:00", "value": 8.90, "series": "Hourly Inlet Hg"},
      {"time": "2004-04-27T09:00", "value": 8.18, "series": "Hourly Inlet Hg"},
      {"time": "2004-04-27T10:00", "value": 8.60, "series": "Hourly Inlet Hg"},
      {"time": "2004-04-27T11:00", "value": 8.35, "series": "Hourly Inlet Hg"},
      {"time": "2004-04-27T12:00", "value": 9.15, "series": "Hourly Inlet Hg"},
      {"time": "2004-04-27T13:00", "value": 8.40, "series": "Hourly Inlet Hg"},
      {"time": "2004-04-27T14:00", "value": 8.85, "series": "Hourly Inlet Hg"},
      {"time": "2004-04-27T15:00", "value": 8.50, "series": "Hourly Inlet Hg"},
      {"time": "2004-04-27T16:00", "value": 9.38, "series": "Hourly Inlet Hg"},
      {"time": "2004-04-27T17:00", "value": 9.15, "series": "Hourly Inlet Hg"},
      {"time": "2004-04-27T18:00", "value": 9.96, "series": "Hourly Inlet Hg"},
      {"time": "2004-04-27T19:00", "value": 8.75, "series": "Hourly Inlet Hg"},
      {"time": "2004-04-27T20:00", "value": 8.00, "series": "Hourly Inlet Hg"},
      {"time": "2004-04-27T21:00", "value": 8.55, "series": "Hourly Inlet Hg"},
      {"time": "2004-04-27T22:00", "value": 10.26, "series": "Hourly Inlet Hg"},
      {"time": "2004-04-27T23:00", "value": 9.73, "series": "Hourly Inlet Hg"},
      {"time": "2004-04-28T00:00", "value": 8.30, "series": "Hourly Inlet Hg"},
      {"time": "2004-04-28T01:00", "value": 9.00, "series": "Hourly Inlet Hg"},
      {"time": "2004-04-28T02:00", "value": 8.45, "series": "Hourly Inlet Hg"},
      {"time": "2004-04-28T03:00", "value": 8.76, "series": "Hourly Inlet Hg"},
      {"time": "2004-04-28T04:00", "value": 8.15, "series": "Hourly Inlet Hg"},
      {"time": "2004-04-28T05:00", "value": 9.40, "series": "Hourly Inlet Hg"},
      {"time": "2004-04-28T06:00", "value": 9.70, "series": "Hourly Inlet Hg"},
      {"time": "2004-04-28T07:00", "value": 8.95, "series": "Hourly Inlet Hg"},
      {"time": "2004-04-28T08:00", "value": 8.35, "series": "Hourly Inlet Hg"},
      {"time": "2004-04-28T09:00", "value": 10.16, "series": "Hourly Inlet Hg"},
      {"time": "2004-04-28T10:00", "value": 8.60, "series": "Hourly Inlet Hg"},
      {"time": "2004-04-28T11:00", "value": 8.80, "series": "Hourly Inlet Hg"},
      {"time": "2004-04-28T12:00", "value": 9.28, "series": "Hourly Inlet Hg"},
      {"time": "2004-04-28T13:00", "value": 8.50, "series": "Hourly Inlet Hg"},
      {"time": "2004-04-28T14:00", "value": 9.02, "series": "Hourly Inlet Hg"},
      {"time": "2004-04-28T15:00", "value": 8.76, "series": "Hourly Inlet Hg"},
      {"time": "2004-04-28T16:00", "value": 8.25, "series": "Hourly Inlet Hg"},
      {"time": "2004-04-28T17:00", "value": 7.79, "series": "Hourly Inlet Hg"},
      {"time": "2004-04-28T18:00", "value": 10.85, "series": "Hourly Inlet Hg"},
      {"time": "2004-04-28T20:00", "value": 8.40, "series": "Hourly Inlet Hg"},
      {"time": "2004-04-28T21:00", "value": 7.85, "series": "Hourly Inlet Hg"},
      {"time": "2004-04-28T22:00", "value": 8.60, "series": "Hourly Inlet Hg"},
      {"time": "2004-04-28T23:00", "value": 8.11, "series": "Hourly Inlet Hg"},
      {"time": "2004-04-29T00:00", "value": 7.70, "series": "Hourly Inlet Hg"},
      {"time": "2004-04-29T01:00", "value": 6.95, "series": "Hourly Inlet Hg"},
      {"time": "2004-04-29T02:00", "value": 7.46, "series": "Hourly Inlet Hg"},
      {"time": "2004-04-29T03:00", "value": 8.20, "series": "Hourly Inlet Hg"},
      {"time": "2004-04-29T04:00", "value": 7.80, "series": "Hourly Inlet Hg"},
      {"time": "2004-04-29T05:00", "value": 7.55, "series": "Hourly Inlet Hg"},
      {"time": "2004-04-29T06:00", "value": 8.40, "series": "Hourly Inlet Hg"},
      {"time": "2004-04-29T07:00", "value": 6.56, "series": "Hourly Inlet Hg"},
      {"time": "2004-04-29T08:00", "value": 10.32, "series": "Hourly Inlet Hg"},
      {"time": "2004-04-29T09:00", "value": 9.15, "series": "Hourly Inlet Hg"},
      {"time": "2004-04-29T10:00", "value": 7.40, "series": "Hourly Inlet Hg"},
      {"time": "2004-04-29T11:00", "value": 7.95, "series": "Hourly Inlet Hg"},
      {"time": "2004-04-29T12:00", "value": 8.05, "series": "Hourly Inlet Hg"},
      {"time": "2004-04-29T13:00", "value": 7.75, "series": "Hourly Inlet Hg"},
      {"time": "2004-04-29T14:00", "value": 7.27, "series": "Hourly Inlet Hg"},
      {"time": "2004-04-29T15:00", "value": 7.35, "series": "Hourly Inlet Hg"},
      {"time": "2004-04-29T16:00", "value": 8.30, "series": "Hourly Inlet Hg"},
      {"time": "2004-04-29T17:00", "value": 7.60, "series": "Hourly Inlet Hg"},
      {"time": "2004-04-29T18:00", "value": 7.95, "series": "Hourly Inlet Hg"},
      {"time": "2004-04-29T19:00", "value": 7.50, "series": "Hourly Inlet Hg"},
      {"time": "2004-04-29T20:00", "value": 8.15, "series": "Hourly Inlet Hg"},
      {"time": "2004-04-29T21:00", "value": 10.30, "series": "Hourly Inlet Hg"},
      {"time": "2004-04-29T22:00", "value": 9.85, "series": "Hourly Inlet Hg"},
      {"time": "2004-04-29T23:00", "value": 7.80, "series": "Hourly Inlet Hg"},
      {"time": "2004-04-30T00:00", "value": 9.12, "series": "Hourly Inlet Hg"},
      {"time": "2004-04-30T01:00", "value": 7.60, "series": "Hourly Inlet Hg"},
      {"time": "2004-04-30T02:00", "value": 8.24, "series": "Hourly Inlet Hg"},
      {"time": "2004-04-30T03:00", "value": 7.95, "series": "Hourly Inlet Hg"},
      {"time": "2004-04-30T04:00", "value": 7.40, "series": "Hourly Inlet Hg"},
      {"time": "2004-04-30T05:00", "value": 8.89, "series": "Hourly Inlet Hg"},
      {"time": "2004-04-30T06:00", "value": 8.30, "series": "Hourly Inlet Hg"},
      {"time": "2004-04-30T07:00", "value": 7.27, "series": "Hourly Inlet Hg"},
      {"time": "2004-04-30T08:00", "value": 8.63, "series": "Hourly Inlet Hg"},
      {"time": "2004-04-30T09:00", "value": 7.65, "series": "Hourly Inlet Hg"},
      {"time": "2004-04-30T10:00", "value": 8.10, "series": "Hourly Inlet Hg"},
      {"time": "2004-04-30T11:00", "value": 7.72, "series": "Hourly Inlet Hg"},
      {"time": "2004-04-30T12:00", "value": 7.35, "series": "Hourly Inlet Hg"},
      {"time": "2004-04-30T13:00", "value": 7.90, "series": "Hourly Inlet Hg"},
      {"time": "2004-04-30T14:00", "value": 8.45, "series": "Hourly Inlet Hg"},
      {"time": "2004-04-30T15:00", "value": 7.75, "series": "Hourly Inlet Hg"},
      {"time": "2004-04-30T16:00", "value": 8.00, "series": "Hourly Inlet Hg"},
      {"time": "2004-04-30T17:00", "value": 8.83, "series": "Hourly Inlet Hg"},
      {"time": "2004-04-30T18:00", "value": 8.44, "series": "Hourly Inlet Hg"},
      {"time": "2004-04-30T19:00", "value": 7.46, "series": "Hourly Inlet Hg"},
      {"time": "2004-04-30T20:00", "value": 7.60, "series": "Hourly Inlet Hg"},
      {"time": "2004-04-30T21:00", "value": 8.25, "series": "Hourly Inlet Hg"},
      {"time": "2004-04-30T22:00", "value": 8.05, "series": "Hourly Inlet Hg"},
      {"time": "2004-04-30T23:00", "value": 7.45, "series": "Hourly Inlet Hg"},
      {"time": "2004-05-01T00:00", "value": 7.85, "series": "Hourly Inlet Hg"},
      {"time": "2004-05-01T01:00", "value": 8.11, "series": "Hourly Inlet Hg"},
      {"time": "2004-05-01T02:00", "value": 7.21, "series": "Hourly Inlet Hg"},
      {"time": "2004-05-01T03:00", "value": 8.40, "series": "Hourly Inlet Hg"},
      {"time": "2004-05-01T04:00", "value": 7.60, "series": "Hourly Inlet Hg"},
      {"time": "2004-05-01T05:00", "value": 8.05, "series": "Hourly Inlet Hg"},
      {"time": "2004-05-01T06:00", "value": 7.30, "series": "Hourly Inlet Hg"},
      {"time": "2004-05-01T07:00", "value": 8.63, "series": "Hourly Inlet Hg"},
      {"time": "2004-05-01T08:00", "value": 7.72, "series": "Hourly Inlet Hg"},
      {"time": "2004-05-01T09:00", "value": 8.70, "series": "Hourly Inlet Hg"},
      {"time": "2004-05-01T10:00", "value": 8.30, "series": "Hourly Inlet Hg"},
      {"time": "2004-05-01T11:00", "value": 7.95, "series": "Hourly Inlet Hg"},
      {"time": "2004-05-01T12:00", "value": 8.50, "series": "Hourly Inlet Hg"},
      {"time": "2004-05-01T13:00", "value": 8.89, "series": "Hourly Inlet Hg"},
      {"time": "2004-05-01T14:00", "value": 9.68, "series": "Hourly Inlet Hg"},
      {"time": "2004-05-01T15:00", "value": 10.01, "series": "Hourly Inlet Hg"},
      {"time": "2004-05-01T16:00", "value": 8.80, "series": "Hourly Inlet Hg"},
      {"time": "2004-05-01T17:00", "value": 8.20, "series": "Hourly Inlet Hg"},
      {"time": "2004-05-01T18:00", "value": 9.28, "series": "Hourly Inlet Hg"},
      {"time": "2004-05-01T19:00", "value": 8.11, "series": "Hourly Inlet Hg"},
      {"time": "2004-05-01T20:00", "value": 8.60, "series": "Hourly Inlet Hg"},
      {"time": "2004-05-01T21:00", "value": 7.90, "series": "Hourly Inlet Hg"},
      {"time": "2004-05-01T22:00", "value": 7.55, "series": "Hourly Inlet Hg"},
      {"time": "2004-05-01T23:00", "value": 8.35, "series": "Hourly Inlet Hg"},
      {"time": "2004-05-02T00:00", "value": 7.75, "series": "Hourly Inlet Hg"},
      {"time": "2004-05-02T01:00", "value": 8.76, "series": "Hourly Inlet Hg"},
      {"time": "2004-05-02T02:00", "value": 8.55, "series": "Hourly Inlet Hg"},
      {"time": "2004-05-02T03:00", "value": 8.20, "series": "Hourly Inlet Hg"},
      {"time": "2004-05-02T04:00", "value": 9.02, "series": "Hourly Inlet Hg"},
      {"time": "2004-05-02T05:00", "value": 7.95, "series": "Hourly Inlet Hg"},
      {"time": "2004-05-02T06:00", "value": 8.85, "series": "Hourly Inlet Hg"},
      {"time": "2004-05-02T07:00", "value": 8.50, "series": "Hourly Inlet Hg"},
      {"time": "2004-05-02T08:00", "value": 7.59, "series": "Hourly Inlet Hg"},
      {"time": "2004-05-02T09:00", "value": 7.40, "series": "Hourly Inlet Hg"},
      {"time": "2004-05-02T10:00", "value": 8.15, "series": "Hourly Inlet Hg"},
      {"time": "2004-05-02T11:00", "value": 7.80, "series": "Hourly Inlet Hg"},
      {"time": "2004-05-02T12:00", "value": 8.65, "series": "Hourly Inlet Hg"},
      {"time": "2004-05-02T13:00", "value": 9.02, "series": "Hourly Inlet Hg"},
      {"time": "2004-05-02T14:00", "value": 8.30, "series": "Hourly Inlet Hg"},
      {"time": "2004-05-02T15:00", "value": 7.65, "series": "Hourly Inlet Hg"},
      {"time": "2004-05-02T16:00", "value": 8.55, "series": "Hourly Inlet Hg"},
      {"time": "2004-05-02T17:00", "value": 8.95, "series": "Hourly Inlet Hg"},
      {"time": "2004-05-02T18:00", "value": 7.90, "series": "Hourly Inlet Hg"},
      {"time": "2004-05-02T19:00", "value": 8.89, "series": "Hourly Inlet Hg"},
      {"time": "2004-05-02T20:00", "value": 8.40, "series": "Hourly Inlet Hg"},
      {"time": "2004-05-02T21:00", "value": 7.70, "series": "Hourly Inlet Hg"},
      {"time": "2004-05-02T22:00", "value": 8.11, "series": "Hourly Inlet Hg"},
      {"time": "2004-05-02T23:00", "value": 8.75, "series": "Hourly Inlet Hg"},
      {"time": "2004-05-03T00:00", "value": 10.55, "series": "Hourly Inlet Hg"},
      {"time": "2004-05-03T01:00", "value": 8.45, "series": "Hourly Inlet Hg"},
      {"time": "2004-05-03T02:00", "value": 9.28, "series": "Hourly Inlet Hg"},
      {"time": "2004-05-03T03:00", "value": 10.20, "series": "Hourly Inlet Hg"},
      {"time": "2004-05-03T04:00", "value": 8.00, "series": "Hourly Inlet Hg"},
      {"time": "2004-05-03T05:00", "value": 8.60, "series": "Hourly Inlet Hg"},
      {"time": "2004-05-03T06:00", "value": 6.13, "series": "Hourly Inlet Hg"},
      {"time": "2004-05-03T07:00", "value": 5.70, "series": "Hourly Inlet Hg"},
      {"time": "2004-05-03T07:30", "value": 8.89, "series": "Hourly Inlet Hg"},
      {"time": "2004-05-03T08:00", "value": 7.72, "series": "Hourly Inlet Hg"},
      {"time": "2004-05-03T09:00", "value": 7.50, "series": "Hourly Inlet Hg"},
      {"time": "2004-05-03T10:00", "value": 7.08, "series": "Hourly Inlet Hg"},
      {"time": "2004-05-03T11:00", "value": 8.15, "series": "Hourly Inlet Hg"},
      {"time": "2004-05-03T12:00", "value": 6.46, "series": "Hourly Inlet Hg"},
      {"time": "2004-05-03T13:00", "value": 7.34, "series": "Hourly Inlet Hg"},
      {"time": "2004-05-03T14:00", "value": 7.70, "series": "Hourly Inlet Hg"},
      {"time": "2004-05-03T15:00", "value": 8.05, "series": "Hourly Inlet Hg"},
      {"time": "2004-05-03T16:00", "value": 7.45, "series": "Hourly Inlet Hg"},
      {"time": "2004-05-03T17:00", "value": 6.82, "series": "Hourly Inlet Hg"},
      {"time": "2004-05-03T18:00", "value": 8.25, "series": "Hourly Inlet Hg"},
      {"time": "2004-05-03T19:00", "value": 7.85, "series": "Hourly Inlet Hg"},
      {"time": "2004-05-03T20:00", "value": 7.60, "series": "Hourly Inlet Hg"},
      {"time": "2004-05-03T21:00", "value": 7.95, "series": "Hourly Inlet Hg"},
      {"time": "2004-05-03T22:00", "value": 8.30, "series": "Hourly Inlet Hg"},
      {"time": "2004-05-03T23:00", "value": 8.55, "series": "Hourly Inlet Hg"},
      {"time": "2004-05-04T00:00", "value": 7.85, "series": "Hourly Inlet Hg"},
      {"time": "2004-05-04T01:00", "value": 8.30, "series": "Hourly Inlet Hg"},
      {"time": "2004-05-04T02:00", "value": 7.60, "series": "Hourly Inlet Hg"},
      {"time": "2004-05-04T03:00", "value": 8.76, "series": "Hourly Inlet Hg"},
      {"time": "2004-05-04T04:00", "value": 8.05, "series": "Hourly Inlet Hg"},
      {"time": "2004-05-04T05:00", "value": 9.02, "series": "Hourly Inlet Hg"},
      {"time": "2004-05-04T06:00", "value": 6.95, "series": "Hourly Inlet Hg"},
      {"time": "2004-05-04T07:00", "value": 7.50, "series": "Hourly Inlet Hg"},
      {"time": "2004-05-04T08:00", "value": 8.55, "series": "Hourly Inlet Hg"},
      {"time": "2004-05-04T09:00", "value": 8.05, "series": "Hourly Inlet Hg"},
      {"time": "2004-05-04T10:00", "value": 7.75, "series": "Hourly Inlet Hg"},
      {"time": "2004-05-04T11:00", "value": 8.25, "series": "Hourly Inlet Hg"},
      {"time": "2004-05-04T12:00", "value": 8.50, "series": "Hourly Inlet Hg"},
      {"time": "2004-05-04T13:00", "value": 8.85, "series": "Hourly Inlet Hg"},
      {"time": "2004-05-04T14:00", "value": 9.48, "series": "Hourly Inlet Hg"},
      {"time": "2004-05-04T15:00", "value": 10.63, "series": "Hourly Inlet Hg"},
      {"time": "2004-05-04T16:00", "value": 10.26, "series": "Hourly Inlet Hg"},
      {"time": "2004-05-04T17:00", "value": 8.45, "series": "Hourly Inlet Hg"},
      {"time": "2004-05-04T18:00", "value": 9.02, "series": "Hourly Inlet Hg"},
      {"time": "2004-05-04T19:00", "value": 8.11, "series": "Hourly Inlet Hg"},
      {"time": "2004-05-04T20:00", "value": 7.70, "series": "Hourly Inlet Hg"},
      {"time": "2004-05-04T21:00", "value": 8.35, "series": "Hourly Inlet Hg"},
      {"time": "2004-05-04T22:00", "value": 7.90, "series": "Hourly Inlet Hg"},
      {"time": "2004-05-04T23:00", "value": 7.55, "series": "Hourly Inlet Hg"},
      {"time": "2004-05-05T00:00", "value": 7.46, "series": "Hourly Inlet Hg"},
      {"time": "2004-05-05T01:00", "value": 8.05, "series": "Hourly Inlet Hg"},
      {"time": "2004-05-05T02:00", "value": 7.40, "series": "Hourly Inlet Hg"},
      {"time": "2004-05-05T03:00", "value": 7.72, "series": "Hourly Inlet Hg"},
      {"time": "2004-05-05T04:00", "value": 7.85, "series": "Hourly Inlet Hg"},
      {"time": "2004-05-05T05:00", "value": 8.20, "series": "Hourly Inlet Hg"},
      {"time": "2004-05-05T06:00", "value": 7.55, "series": "Hourly Inlet Hg"},
      {"time": "2004-05-05T07:00", "value": 8.45, "series": "Hourly Inlet Hg"},
      {"time": "2004-05-05T08:00", "value": 7.95, "series": "Hourly Inlet Hg"},
      {"time": "2004-05-05T09:00", "value": 7.34, "series": "Hourly Inlet Hg"},
      {"time": "2004-05-05T10:00", "value": 7.70, "series": "Hourly Inlet Hg"},
      {"time": "2004-05-05T11:00", "value": 8.76, "series": "Hourly Inlet Hg"},
      {"time": "2004-05-05T13:00", "value": 9.28, "series": "Hourly Inlet Hg"},
      {"time": "2004-05-05T14:00", "value": 8.25, "series": "Hourly Inlet Hg"},
      {"time": "2004-05-05T15:00", "value": 7.60, "series": "Hourly Inlet Hg"},
      {"time": "2004-05-05T16:00", "value": 7.35, "series": "Hourly Inlet Hg"},
      {"time": "2004-05-05T17:00", "value": 8.76, "series": "Hourly Inlet Hg"},
      {"time": "2004-05-05T18:00", "value": 8.00, "series": "Hourly Inlet Hg"},
      {"time": "2004-05-05T19:00", "value": 7.60, "series": "Hourly Inlet Hg"},
      {"time": "2004-05-05T20:00", "value": 7.25, "series": "Hourly Inlet Hg"},
      {"time": "2004-05-05T21:00", "value": 8.11, "series": "Hourly Inlet Hg"},
      {"time": "2004-05-05T22:00", "value": 7.98, "series": "Hourly Inlet Hg"},
      {"time": "2004-05-05T23:00", "value": 8.50, "series": "Hourly Inlet Hg"},
      {"time": "2004-05-06T00:00", "value": 7.80, "series": "Hourly Inlet Hg"},
      {"time": "2004-05-06T01:00", "value": 8.15, "series": "Hourly Inlet Hg"},
      {"time": "2004-05-06T02:00", "value": 7.27, "series": "Hourly Inlet Hg"},
      {"time": "2004-05-06T03:00", "value": 7.55, "series": "Hourly Inlet Hg"},
      {"time": "2004-05-06T04:00", "value": 8.40, "series": "Hourly Inlet Hg"},
      {"time": "2004-05-06T05:00", "value": 7.90, "series": "Hourly Inlet Hg"},
      {"time": "2004-05-06T06:00", "value": 7.20, "series": "Hourly Inlet Hg"},
      {"time": "2004-05-06T07:00", "value": 8.00, "series": "Hourly Inlet Hg"},
      {"time": "2004-05-06T08:00", "value": 7.46, "series": "Hourly Inlet Hg"},
      {"time": "2004-05-06T09:00", "value": 7.65, "series": "Hourly Inlet Hg"},
      {"time": "2004-05-06T10:00", "value": 7.01, "series": "Hourly Inlet Hg"},
      {"time": "2004-05-06T11:00", "value": 7.72, "series": "Hourly Inlet Hg"},
      {"time": "2004-05-06T12:00", "value": 6.95, "series": "Hourly Inlet Hg"},
      {"time": "2004-05-06T13:00", "value": 7.45, "series": "Hourly Inlet Hg"},
      {"time": "2004-05-06T14:00", "value": 7.35, "series": "Hourly Inlet Hg"},
      {"time": "2004-05-06T15:00", "value": 7.95, "series": "Hourly Inlet Hg"},
      {"time": "2004-05-06T16:00", "value": 8.50, "series": "Hourly Inlet Hg"},
      {"time": "2004-05-06T17:00", "value": 9.51, "series": "Hourly Inlet Hg"},
      {"time": "2004-05-06T18:00", "value": 7.80, "series": "Hourly Inlet Hg"},
      {"time": "2004-05-06T19:00", "value": 7.25, "series": "Hourly Inlet Hg"},
      {"time": "2004-05-06T20:00", "value": 8.24, "series": "Hourly Inlet Hg"},
      {"time": "2004-05-06T21:00", "value": 7.60, "series": "Hourly Inlet Hg"},
      {"time": "2004-05-06T22:00", "value": 6.95, "series": "Hourly Inlet Hg"},
      {"time": "2004-05-06T23:00", "value": 7.53, "series": "Hourly Inlet Hg"},
      {"time": "2004-05-07T00:00", "value": 7.35, "series": "Hourly Inlet Hg"},
      {"time": "2004-05-07T01:00", "value": 6.90, "series": "Hourly Inlet Hg"},
      {"time": "2004-05-07T02:00", "value": 7.10, "series": "Hourly Inlet Hg"},
      {"time": "2004-05-07T03:00", "value": 6.60, "series": "Hourly Inlet Hg"},
      {"time": "2004-05-07T04:00", "value": 7.00, "series": "Hourly Inlet Hg"},
      {"time": "2004-05-07T05:00", "value": 6.75, "series": "Hourly Inlet Hg"},
      {"time": "2004-05-07T06:00", "value": 6.35, "series": "Hourly Inlet Hg"},
      {"time": "2004-05-07T07:00", "value": 6.85, "series": "Hourly Inlet Hg"},
      {"time": "2004-05-07T08:00", "value": 6.49, "series": "Hourly Inlet Hg"},
      {"time": "2004-05-07T09:00", "value": 6.04, "series": "Hourly Inlet Hg"},
      {"time": "2004-05-07T10:00", "value": 6.30, "series": "Hourly Inlet Hg"},
      {"time": "2004-05-07T11:00", "value": 6.69, "series": "Hourly Inlet Hg"},
      {"time": "2004-05-07T12:00", "value": 5.45, "series": "Hourly Inlet Hg"},
      {"time": "2004-05-07T13:00", "value": 5.90, "series": "Hourly Inlet Hg"},
      {"time": "2004-05-07T14:00", "value": 6.23, "series": "Hourly Inlet Hg"},
      {"time": "2004-05-07T15:00", "value": 6.10, "series": "Hourly Inlet Hg"},
      {"time": "2004-05-07T16:00", "value": 6.43, "series": "Hourly Inlet Hg"},
      {"time": "2004-05-07T17:00", "value": 6.56, "series": "Hourly Inlet Hg"},
      {"time": "2004-05-07T18:00", "value": 5.84, "series": "Hourly Inlet Hg"},
      {"time": "2004-05-07T19:00", "value": 6.25, "series": "Hourly Inlet Hg"},
      {"time": "2004-05-07T20:00", "value": 5.65, "series": "Hourly Inlet Hg"},
      {"time": "2004-05-07T21:00", "value": 5.75, "series": "Hourly Inlet Hg"},
      {"time": "2004-05-07T22:00", "value": 7.40, "series": "Hourly Inlet Hg"},
      {"time": "2004-05-07T23:00", "value": 6.04, "series": "Hourly Inlet Hg"},
      {"time": "2004-05-08T00:00", "value": 6.35, "series": "Hourly Inlet Hg"},
      {"time": "2004-05-08T01:00", "value": 6.80, "series": "Hourly Inlet Hg"},
      {"time": "2004-05-08T02:00", "value": 5.60, "series": "Hourly Inlet Hg"},
      {"time": "2004-05-08T03:00", "value": 5.91, "series": "Hourly Inlet Hg"},
      {"time": "2004-05-08T04:00", "value": 6.17, "series": "Hourly Inlet Hg"},
      {"time": "2004-05-08T05:00", "value": 7.40, "series": "Hourly Inlet Hg"},
      {"time": "2004-05-08T06:00", "value": 5.32, "series": "Hourly Inlet Hg"},
      {"time": "2004-05-08T07:00", "value": 6.55, "series": "Hourly Inlet Hg"},
      {"time": "2004-05-08T08:00", "value": 5.84, "series": "Hourly Inlet Hg"},
      {"time": "2004-05-08T09:00", "value": 6.10, "series": "Hourly Inlet Hg"},
      {"time": "2004-05-08T10:00", "value": 5.70, "series": "Hourly Inlet Hg"},
      {"time": "2004-05-08T11:00", "value": 6.43, "series": "Hourly Inlet Hg"},
      {"time": "2004-05-08T12:00", "value": 6.38, "series": "Hourly Inlet Hg"},
      {"time": "2004-05-08T13:00", "value": 5.97, "series": "Hourly Inlet Hg"},
      {"time": "2004-05-08T14:00", "value": 6.95, "series": "Hourly Inlet Hg"},
      {"time": "2004-05-08T15:00", "value": 6.90, "series": "Hourly Inlet Hg"},
      {"time": "2004-05-08T16:00", "value": 8.70, "series": "Hourly Inlet Hg"},
      {"time": "2004-05-08T17:00", "value": 7.72, "series": "Hourly Inlet Hg"},
      {"time": "2004-05-08T19:00", "value": 10.79, "series": "Hourly Inlet Hg"},
      {"time": "2004-05-08T20:00", "value": 9.68, "series": "Hourly Inlet Hg"},
      {"time": "2004-05-08T21:00", "value": 8.63, "series": "Hourly Inlet Hg"},
      {"time": "2004-05-08T22:00", "value": 9.41, "series": "Hourly Inlet Hg"},
      {"time": "2004-05-08T23:00", "value": 9.67, "series": "Hourly Inlet Hg"},
      {"time": "2004-05-09T03:00", "value": 9.40, "series": "Hourly Inlet Hg"},
      {"time": "2004-05-09T04:00", "value": 9.28, "series": "Hourly Inlet Hg"},
      {"time": "2004-05-09T05:00", "value": 8.50, "series": "Hourly Inlet Hg"},
      {"time": "2004-05-09T06:00", "value": 7.59, "series": "Hourly Inlet Hg"},
      {"time": "2004-05-09T07:00", "value": 7.27, "series": "Hourly Inlet Hg"},
      {"time": "2004-05-09T09:00", "value": 7.90, "series": "Hourly Inlet Hg"},
      {"time": "2004-05-09T10:00", "value": 6.43, "series": "Hourly Inlet Hg"},
      {"time": "2004-05-09T12:00", "value": 6.23, "series": "Hourly Inlet Hg"},
      {"time": "2004-05-09T14:00", "value": 7.55, "series": "Hourly Inlet Hg"},
      {"time": "2004-05-09T16:00", "value": 6.95, "series": "Hourly Inlet Hg"},
      {"time": "2004-05-09T17:00", "value": 8.05, "series": "Hourly Inlet Hg"},
      {"time": "2004-05-09T19:00", "value": 8.57, "series": "Hourly Inlet Hg"},
      {"time": "2004-05-09T20:00", "value": 8.50, "series": "Hourly Inlet Hg"},
      {"time": "2004-05-09T22:00", "value": 6.36, "series": "Hourly Inlet Hg"},
      {"time": "2004-05-09T23:00", "value": 6.23, "series": "Hourly Inlet Hg"},
      {"time": "2004-05-10T01:00", "value": 7.27, "series": "Hourly Inlet Hg"},
      {"time": "2004-05-10T03:00", "value": 7.05, "series": "Hourly Inlet Hg"},
      {"time": "2004-05-10T05:00", "value": 6.60, "series": "Hourly Inlet Hg"},
      {"time": "2004-05-10T07:00", "value": 7.80, "series": "Hourly Inlet Hg"},
      {"time": "2004-05-10T09:00", "value": 6.85, "series": "Hourly Inlet Hg"},
      {"time": "2004-05-10T12:00", "value": 11.33, "series": "Hourly Inlet Hg"},
      {"time": "2004-05-10T13:00", "value": 10.45, "series": "Hourly Inlet Hg"},
      {"time": "2004-05-10T15:00", "value": 7.46, "series": "Hourly Inlet Hg"},
      {"time": "2004-05-10T16:00", "value": 8.11, "series": "Hourly Inlet Hg"},
      {"time": "2004-05-10T19:00", "value": 7.10, "series": "Hourly Inlet Hg"},
      {"time": "2004-05-10T20:00", "value": 6.70, "series": "Hourly Inlet Hg"},
      {"time": "2004-05-10T22:00", "value": 7.34, "series": "Hourly Inlet Hg"},
      {"time": "2004-05-11T00:00", "value": 6.82, "series": "Hourly Inlet Hg"},
      {"time": "2004-05-11T01:00", "value": 7.72, "series": "Hourly Inlet Hg"},
      {"time": "2004-05-11T02:00", "value": 6.43, "series": "Hourly Inlet Hg"},
      {"time": "2004-05-11T03:00", "value": 6.60, "series": "Hourly Inlet Hg"},
      {"time": "2004-05-11T04:00", "value": 7.46, "series": "Hourly Inlet Hg"},
      {"time": "2004-05-11T06:00", "value": 7.05, "series": "Hourly Inlet Hg"},
      {"time": "2004-05-11T09:00", "value": 6.10, "series": "Hourly Inlet Hg"},
      {"time": "2004-05-11T10:00", "value": 6.95, "series": "Hourly Inlet Hg"},
      {"time": "2004-05-11T11:00", "value": 5.52, "series": "Hourly Inlet Hg"},
      {"time": "2004-05-11T12:00", "value": 4.87, "series": "Hourly Inlet Hg"},
      {"time": "2004-05-11T13:00", "value": 5.35, "series": "Hourly Inlet Hg"},
      {"time": "2004-05-11T15:00", "value": 5.84, "series": "Hourly Inlet Hg"},
      {"time": "2004-05-11T16:00", "value": 5.13, "series": "Hourly Inlet Hg"},
      {"time": "2004-05-11T18:00", "value": 6.10, "series": "Hourly Inlet Hg"},
      {"time": "2004-05-11T20:00", "value": 5.70, "series": "Hourly Inlet Hg"},
      {"time": "2004-05-11T22:00", "value": 6.35, "series": "Hourly Inlet Hg"},
      {"time": "2004-05-12T00:00", "value": 6.20, "series": "Hourly Inlet Hg"},
      {"time": "2004-05-12T01:00", "value": 6.56, "series": "Hourly Inlet Hg"},
      {"time": "2004-05-12T02:00", "value": 7.37, "series": "Hourly Inlet Hg"},
      {"time": "2004-05-12T03:00", "value": 6.95, "series": "Hourly Inlet Hg"},
      {"time": "2004-05-12T04:00", "value": 5.58, "series": "Hourly Inlet Hg"},
      {"time": "2004-05-12T05:00", "value": 8.03, "series": "Hourly Inlet Hg"},
      {"time": "2004-05-12T06:00", "value": 5.06, "series": "Hourly Inlet Hg"},
      {"time": "2004-05-12T07:00", "value": 5.80, "series": "Hourly Inlet Hg"},
      {"time": "2004-05-12T08:00", "value": 6.75, "series": "Hourly Inlet Hg"},
      {"time": "2004-05-12T09:00", "value": 4.74, "series": "Hourly Inlet Hg"},
      {"time": "2004-05-12T10:00", "value": 5.30, "series": "Hourly Inlet Hg"},
      {"time": "2004-05-12T11:00", "value": 4.54, "series": "Hourly Inlet Hg"},
      {"time": "2004-05-12T12:00", "value": 4.95, "series": "Hourly Inlet Hg"},
      {"time": "2004-05-12T13:00", "value": 4.40, "series": "Hourly Inlet Hg"},
      {"time": "2004-05-12T14:00", "value": 4.75, "series": "Hourly Inlet Hg"},
      {"time": "2004-05-12T15:00", "value": 4.09, "series": "Hourly Inlet Hg"},
      {"time": "2004-05-12T16:00", "value": 4.25, "series": "Hourly Inlet Hg"},
      {"time": "2004-05-12T17:00", "value": 4.60, "series": "Hourly Inlet Hg"},
      {"time": "2004-05-12T18:00", "value": 4.10, "series": "Hourly Inlet Hg"},
      {"time": "2004-05-12T19:00", "value": 4.45, "series": "Hourly Inlet Hg"},
      {"time": "2004-05-12T21:00", "value": 6.59, "series": "Hourly Inlet Hg"},
      {"time": "2004-05-12T22:00", "value": 5.45, "series": "Hourly Inlet Hg"},
      {"time": "2004-05-12T23:00", "value": 7.08, "series": "Hourly Inlet Hg"},
      {"time": "2004-05-13T00:00", "value": 4.29, "series": "Hourly Inlet Hg"},
      {"time": "2004-05-13T01:00", "value": 4.15, "series": "Hourly Inlet Hg"},
      {"time": "2004-05-13T02:00", "value": 5.84, "series": "Hourly Inlet Hg"},
      {"time": "2004-05-13T03:00", "value": 3.89, "series": "Hourly Inlet Hg"},
      {"time": "2004-05-13T04:00", "value": 4.60, "series": "Hourly Inlet Hg"},
      {"time": "2004-05-13T05:00", "value": 4.00, "series": "Hourly Inlet Hg"},
      {"time": "2004-05-13T06:00", "value": 6.56, "series": "Hourly Inlet Hg"},
      {"time": "2004-05-13T07:00", "value": 4.35, "series": "Hourly Inlet Hg"},
      {"time": "2004-05-13T08:00", "value": 4.93, "series": "Hourly Inlet Hg"},
      {"time": "2004-05-13T09:00", "value": 4.03, "series": "Hourly Inlet Hg"},
      {"time": "2004-05-13T10:00", "value": 4.80, "series": "Hourly Inlet Hg"},
      {"time": "2004-05-13T11:00", "value": 4.20, "series": "Hourly Inlet Hg"},
      {"time": "2004-05-13T12:00", "value": 4.42, "series": "Hourly Inlet Hg"},
      {"time": "2004-05-13T14:00", "value": 6.00, "series": "Hourly Inlet Hg"},
      {"time": "2004-05-13T15:00", "value": 6.35, "series": "Hourly Inlet Hg"},
      {"time": "2004-05-13T17:00", "value": 6.62, "series": "Hourly Inlet Hg"},
      {"time": "2004-05-13T18:00", "value": 7.53, "series": "Hourly Inlet Hg"},
      {"time": "2004-05-13T19:00", "value": 9.74, "series": "Hourly Inlet Hg"},
      {"time": "2004-05-13T20:00", "value": 8.18, "series": "Hourly Inlet Hg"},
      {"time": "2004-05-13T21:00", "value": 5.97, "series": "Hourly Inlet Hg"},
      {"time": "2004-05-14T00:00", "value": 6.55, "series": "Hourly Inlet Hg"},
      {"time": "2004-05-14T01:00", "value": 6.25, "series": "Hourly Inlet Hg"},
      {"time": "2004-05-14T02:00", "value": 7.21, "series": "Hourly Inlet Hg"},
      {"time": "2004-05-14T03:00", "value": 6.04, "series": "Hourly Inlet Hg"},
      {"time": "2004-05-14T04:00", "value": 6.80, "series": "Hourly Inlet Hg"},
      {"time": "2004-05-14T05:00", "value": 6.17, "series": "Hourly Inlet Hg"},
      {"time": "2004-05-14T06:00", "value": 5.65, "series": "Hourly Inlet Hg"},
      {"time": "2004-05-14T07:00", "value": 6.40, "series": "Hourly Inlet Hg"},
      {"time": "2004-05-14T08:00", "value": 7.01, "series": "Hourly Inlet Hg"},
      {"time": "2004-05-14T09:00", "value": 6.00, "series": "Hourly Inlet Hg"},
      {"time": "2004-05-14T10:00", "value": 6.60, "series": "Hourly Inlet Hg"},
      {"time": "2004-05-14T11:00", "value": 6.75, "series": "Hourly Inlet Hg"},
      {"time": "2004-05-14T12:00", "value": 6.20, "series": "Hourly Inlet Hg"},
      {"time": "2004-05-14T13:00", "value": 6.90, "series": "Hourly Inlet Hg"},
      {"time": "2004-05-14T14:00", "value": 6.43, "series": "Hourly Inlet Hg"},
      {"time": "2004-05-14T15:00", "value": 6.17, "series": "Hourly Inlet Hg"},
      {"time": "2004-05-14T16:00", "value": 6.55, "series": "Hourly Inlet Hg"},
      {"time": "2004-05-14T17:00", "value": 5.97, "series": "Hourly Inlet Hg"},
      {"time": "2004-05-14T18:00", "value": 6.30, "series": "Hourly Inlet Hg"},
      {"time": "2004-05-14T19:00", "value": 6.04, "series": "Hourly Inlet Hg"},
      {"time": "2004-05-14T20:00", "value": 7.59, "series": "Hourly Inlet Hg"},
      {"time": "2004-05-14T21:00", "value": 8.96, "series": "Hourly Inlet Hg"},
      {"time": "2004-05-14T22:00", "value": 9.15, "series": "Hourly Inlet Hg"},
      {"time": "2004-05-14T23:00", "value": 8.24, "series": "Hourly Inlet Hg"},
      {"time": "2004-05-15T00:00", "value": 6.15, "series": "Hourly Inlet Hg"},
      {"time": "2004-05-15T01:00", "value": 6.50, "series": "Hourly Inlet Hg"},
      {"time": "2004-05-15T02:00", "value": 5.97, "series": "Hourly Inlet Hg"}
    ],
    "daily": [
      {"time": "2004-04-12T00:00", "value": 7.53, "series": "Daily Averages"},
      {"time": "2004-04-13T00:00", "value": 7.27, "series": "Daily Averages"},
      {"time": "2004-04-19T00:00", "value": 8.03, "series": "Daily Averages"},
      {"time": "2004-04-20T00:00", "value": 8.96, "series": "Daily Averages"},
      {"time": "2004-04-21T00:00", "value": 8.72, "series": "Daily Averages"},
      {"time": "2004-04-22T00:00", "value": 8.83, "series": "Daily Averages"},
      {"time": "2004-04-23T00:00", "value": 8.61, "series": "Daily Averages"},
      {"time": "2004-04-26T00:00", "value": 9.17, "series": "Daily Averages"},
      {"time": "2004-04-27T00:00", "value": 9.07, "series": "Daily Averages"},
      {"time": "2004-04-28T00:00", "value": 8.87, "series": "Daily Averages"},
      {"time": "2004-04-29T00:00", "value": 8.24, "series": "Daily Averages"},
      {"time": "2004-04-30T00:00", "value": 7.96, "series": "Daily Averages"},
      {"time": "2004-05-01T00:00", "value": 8.42, "series": "Daily Averages"},
      {"time": "2004-05-02T00:00", "value": 8.35, "series": "Daily Averages"},
      {"time": "2004-05-03T00:00", "value": 7.78, "series": "Daily Averages"},
      {"time": "2004-05-04T00:00", "value": 8.40, "series": "Daily Averages"},
      {"time": "2004-05-05T00:00", "value": 7.95, "series": "Daily Averages"},
      {"time": "2004-05-06T00:00", "value": 7.74, "series": "Daily Averages"},
      {"time": "2004-05-07T00:00", "value": 6.27, "series": "Daily Averages"},
      {"time": "2004-05-08T00:00", "value": 7.14, "series": "Daily Averages"},
      {"time": "2004-05-09T00:00", "value": 7.61, "series": "Daily Averages"},
      {"time": "2004-05-10T00:00", "value": 7.68, "series": "Daily Averages"},
      {"time": "2004-05-11T00:00", "value": 5.98, "series": "Daily Averages"},
      {"time": "2004-05-12T00:00", "value": 5.21, "series": "Daily Averages"},
      {"time": "2004-05-13T00:00", "value": 6.10, "series": "Daily Averages"},
      {"time": "2004-05-14T00:00", "value": 6.56, "series": "Daily Averages"},
      {"time": "2004-04-12T00:00", "value": 4.62, "series": "Daily Averages"},
      {"time": "2004-04-13T00:00", "value": 4.21, "series": "Daily Averages"},
      {"time": "2004-04-14T00:00", "value": 4.51, "series": "Daily Averages"},
      {"time": "2004-04-15T00:00", "value": 3.47, "series": "Daily Averages"},
      {"time": "2004-04-16T00:00", "value": 3.63, "series": "Daily Averages"},
      {"time": "2004-04-17T00:00", "value": 2.80, "series": "Daily Averages"},
      {"time": "2004-04-19T00:00", "value": 3.47, "series": "Daily Averages"},
      {"time": "2004-04-20T00:00", "value": 3.63, "series": "Daily Averages"},
      {"time": "2004-04-21T00:00", "value": 3.57, "series": "Daily Averages"},
      {"time": "2004-04-22T00:00", "value": 3.42, "series": "Daily Averages"},
      {"time": "2004-04-23T00:00", "value": 3.62, "series": "Daily Averages"},
      {"time": "2004-04-26T00:00", "value": 3.62, "series": "Daily Averages"},
      {"time": "2004-04-27T00:00", "value": 3.20, "series": "Daily Averages"},
      {"time": "2004-04-28T00:00", "value": 4.54, "series": "Daily Averages"},
      {"time": "2004-04-29T00:00", "value": 4.04, "series": "Daily Averages"},
      {"time": "2004-04-30T00:00", "value": 4.23, "series": "Daily Averages"},
      {"time": "2004-05-01T00:00", "value": 4.17, "series": "Daily Averages"},
      {"time": "2004-05-02T00:00", "value": 3.91, "series": "Daily Averages"},
      {"time": "2004-05-03T00:00", "value": 3.71, "series": "Daily Averages"},
      {"time": "2004-05-04T00:00", "value": 4.06, "series": "Daily Averages"},
      {"time": "2004-05-05T00:00", "value": 4.48, "series": "Daily Averages"},
      {"time": "2004-05-06T00:00", "value": 4.77, "series": "Daily Averages"},
      {"time": "2004-05-07T00:00", "value": 3.55, "series": "Daily Averages"},
      {"time": "2004-05-08T00:00", "value": 3.42, "series": "Daily Averages"},
      {"time": "2004-05-09T00:00", "value": 4.12, "series": "Daily Averages"},
      {"time": "2004-05-10T00:00", "value": 3.71, "series": "Daily Averages"},
      {"time": "2004-05-11T00:00", "value": 2.86, "series": "Daily Averages"},
      {"time": "2004-05-12T00:00", "value": 3.36, "series": "Daily Averages"},
      {"time": "2004-05-13T00:00", "value": 3.11, "series": "Daily Averages"},
      {"time": "2004-05-14T00:00", "value": 3.12, "series": "Daily Averages"}
    ]
  },
  "layer": [
    {
      "data": {"name": "hourly"},
      "transform": [{"filter": "datum.series === 'Hourly Outlet Hg'"}],
      "mark": {"type": "point", "filled": true, "opacity": 1, "size": 380, "strokeWidth": 0},
      "encoding": {
        "x": {
          "field": "time", "type": "temporal",
          "scale": {"domain": [{"year": 2004, "month": 4, "date": 11}, {"year": 2004, "month": 5, "date": 16}], "nice": false},
          "axis": {
            "orient": "bottom",
            "title": "Date–Time",
            "tickCount": {"interval": "day", "step": 1},
            "labelExpr": "day(datum.value) === 0 ? timeFormat(datum.value, '%-m/%-d/%Y') : ''",
            "labelOverlap": false,
            "labelFlush": false,
            "labelPadding": 4,
            "tickSize": {"condition": {"test": "day(datum.value) === 0", "value": 14}, "value": 7},
            "grid": true,
            "gridDash": [1, 2],
            "gridColor": "#8c8c8c",
            "gridWidth": 1,
            "titlePadding": 3
          }
        },
        "y": {
          "field": "value", "type": "quantitative",
          "scale": {"domain": [0, 15], "nice": false, "zero": true},
          "axis": {
            "orient": "left",
            "title": "Mercury Concentration, µg/dNm³ @3%O₂",
            "values": [0, 1, 2, 3, 4, 5, 6, 7, 8, 9, 10, 11, 12, 13, 14],
            "labelExpr": "datum.value % 2 === 0 ? datum.label : ''",
            "tickSize": {"condition": {"test": "datum.value % 2 === 0", "value": 15}, "value": 8},
            "labelPadding": 11,
            "titleX": -101,
            "titleY": 370,
            "titleFontSize": 41
          }
        },
        "color": {
          "field": "series", "type": "nominal",
          "scale": {"domain": ["Hourly Inlet Hg", "Hourly Outlet Hg", "Daily Averages"], "range": ["#7f7f7f", "#c0c0c0", "#000000"]},
          "legend": {
            "orient": "none", "legendX": 21, "legendY": 19, "title": null,
            "labelFont": "Liberation Sans", "labelFontSize": 35, "labelColor": "black", "labelLimit": 500,
            "symbolSize": 200, "symbolStrokeWidth": 0, "symbolOpacity": 1,
            "strokeColor": "black", "fillColor": "white", "padding": 8, "rowPadding": 7,
            "symbolOffset": -4, "labelOffset": 9,
            "encode": {"legend": {"update": {"strokeWidth": {"value": 3}}}}
          }
        },
        "shape": {
          "field": "series", "type": "nominal",
          "scale": {"domain": ["Hourly Inlet Hg", "Hourly Outlet Hg", "Daily Averages"], "range": ["diamond", "triangle-down", "M-1,-0.28L1,-0.28L1,0.28L-1,0.28Z"]},
          "legend": {
            "orient": "none", "legendX": 21, "legendY": 19, "title": null,
            "labelFont": "Liberation Sans", "labelFontSize": 35, "labelColor": "black", "labelLimit": 500,
            "symbolSize": 200, "symbolStrokeWidth": 0, "symbolOpacity": 1,
            "strokeColor": "black", "fillColor": "white", "padding": 8, "rowPadding": 7,
            "symbolOffset": -4, "labelOffset": 9,
            "encode": {"legend": {"update": {"strokeWidth": {"value": 3}}}}
          }
        }
      }
    },
    {
      "data": {"name": "hourly"},
      "transform": [{"filter": "datum.series === 'Hourly Inlet Hg'"}],
      "mark": {"type": "point", "filled": true, "opacity": 1, "size": 335, "strokeWidth": 0},
      "encoding": {
        "x": {"field": "time", "type": "temporal", "axis": null},
        "y": {"field": "value", "type": "quantitative", "axis": null},
        "color": {"field": "series", "type": "nominal"},
        "shape": {"field": "series", "type": "nominal"}
      }
    },
    {
      "data": {"name": "daily"},
      "mark": {"type": "point", "filled": true, "opacity": 1, "size": 289, "strokeWidth": 0},
      "encoding": {
        "x": {"field": "time", "type": "temporal", "axis": null},
        "y": {"field": "value", "type": "quantitative", "axis": null},
        "color": {"field": "series", "type": "nominal"},
        "shape": {"field": "series", "type": "nominal"}
      }
    },
    {
      "data": {"name": "days"},
      "mark": {"type": "rule", "color": "black", "strokeWidth": 3},
      "encoding": {
        "x": {"field": "date", "type": "temporal", "axis": null},
        "y": {"datum": 15, "type": "quantitative", "axis": null},
        "y2": {"datum": 14.864}
      }
    },
    {
      "data": {"name": "days"},
      "transform": [{"filter": "day(datum.date) === 0"}],
      "mark": {"type": "rule", "color": "black", "strokeWidth": 3},
      "encoding": {
        "x": {"field": "date", "type": "temporal", "axis": null},
        "y": {"datum": 15, "type": "quantitative", "axis": null},
        "y2": {"datum": 14.747}
      }
    },
    {
      "data": {"name": "daily"},
      "mark": {"type": "point", "opacity": 0},
      "encoding": {
        "x": {
          "field": "time", "type": "temporal",
          "axis": {
            "orient": "top",
            "title": "EERC CW27827.CDR",
            "titleAnchor": "end",
            "titleFontStyle": "italic",
            "titleFontSize": 21,
            "titleColor": "#333333",
            "titlePadding": 4,
            "labels": false,
            "ticks": false
          }
        },
        "y": {
          "field": "value", "type": "quantitative",
          "axis": {
            "orient": "right",
            "title": null,
            "values": [0, 1, 2, 3, 4, 5, 6, 7, 8, 9, 10, 11, 12, 13, 14],
            "labelExpr": "datum.value % 2 === 0 ? datum.label : ''",
            "tickSize": {"condition": {"test": "datum.value % 2 === 0", "value": 15}, "value": 8},
            "labelPadding": 7
          }
        }
      }
    }
  ],
  "resolve": {"axis": {"x": "independent", "y": "independent"}}
}
